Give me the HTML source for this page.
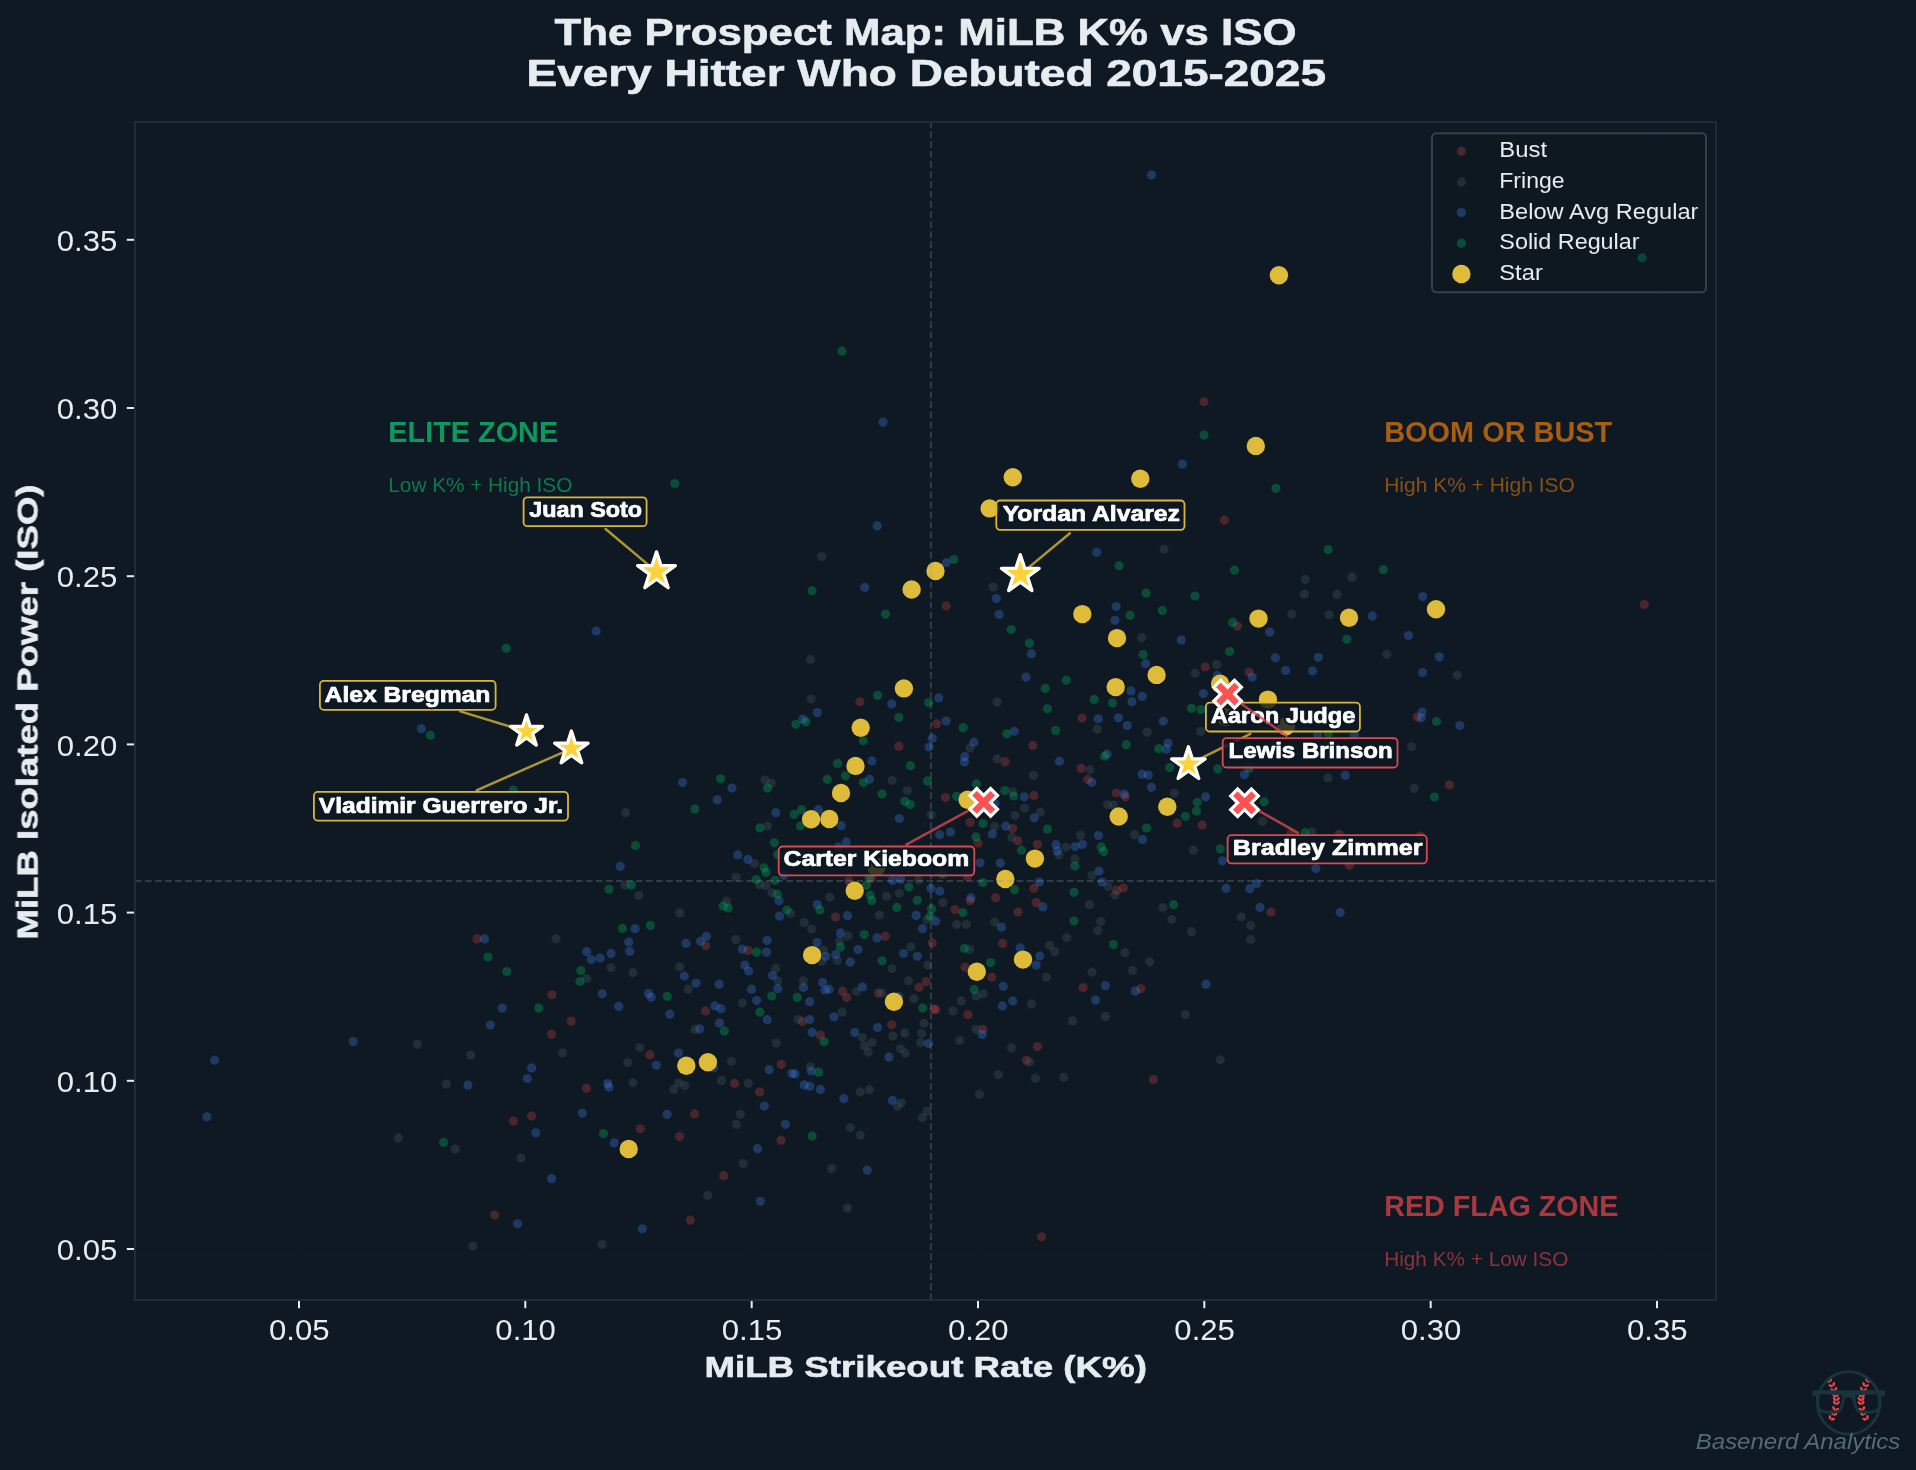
<!DOCTYPE html><html><head><meta charset="utf-8"><title>The Prospect Map</title>
<style>html,body{margin:0;padding:0;background:#0f1923;}body{width:1916px;height:1470px;overflow:hidden;font-family:"Liberation Sans",sans-serif;}svg{display:block;font-family:"Liberation Sans",sans-serif;}text{font-family:"Liberation Sans",sans-serif;}</style>
</head><body>
<svg width="1916" height="1470" viewBox="0 0 1916 1470">
<rect x="0" y="0" width="1916" height="1470" fill="#0f1923"/>
<g opacity="0.999">
<g stroke="#111b26" stroke-width="1.2">
<line x1="299.0" y1="122.0" x2="299.0" y2="1300.0"/>
<line x1="135.0" y1="1249.0" x2="1716.0" y2="1249.0"/>
<line x1="525.3" y1="122.0" x2="525.3" y2="1300.0"/>
<line x1="135.0" y1="1080.8" x2="1716.0" y2="1080.8"/>
<line x1="751.7" y1="122.0" x2="751.7" y2="1300.0"/>
<line x1="135.0" y1="912.6" x2="1716.0" y2="912.6"/>
<line x1="978.0" y1="122.0" x2="978.0" y2="1300.0"/>
<line x1="135.0" y1="744.4" x2="1716.0" y2="744.4"/>
<line x1="1204.3" y1="122.0" x2="1204.3" y2="1300.0"/>
<line x1="135.0" y1="576.2" x2="1716.0" y2="576.2"/>
<line x1="1430.7" y1="122.0" x2="1430.7" y2="1300.0"/>
<line x1="135.0" y1="408.0" x2="1716.0" y2="408.0"/>
<line x1="1657.0" y1="122.0" x2="1657.0" y2="1300.0"/>
<line x1="135.0" y1="239.8" x2="1716.0" y2="239.8"/>
</g>
<g>
<circle cx="1204.0" cy="401.8" r="4.6" fill="rgb(189,65,66)" fill-opacity="0.35"/>
<circle cx="860.0" cy="701.8" r="4.6" fill="rgb(189,65,66)" fill-opacity="0.35"/>
<circle cx="898.9" cy="746.2" r="4.6" fill="rgb(189,65,66)" fill-opacity="0.35"/>
<circle cx="848.8" cy="881.1" r="4.6" fill="rgb(189,65,66)" fill-opacity="0.35"/>
<circle cx="871.4" cy="878.6" r="4.6" fill="rgb(189,65,66)" fill-opacity="0.35"/>
<circle cx="835.5" cy="917.0" r="4.6" fill="rgb(189,65,66)" fill-opacity="0.35"/>
<circle cx="885.1" cy="936.3" r="4.6" fill="rgb(189,65,66)" fill-opacity="0.35"/>
<circle cx="705.7" cy="945.8" r="4.6" fill="rgb(189,65,66)" fill-opacity="0.35"/>
<circle cx="748.1" cy="950.4" r="4.6" fill="rgb(189,65,66)" fill-opacity="0.35"/>
<circle cx="932.3" cy="942.9" r="4.6" fill="rgb(189,65,66)" fill-opacity="0.35"/>
<circle cx="926.0" cy="981.7" r="4.6" fill="rgb(189,65,66)" fill-opacity="0.35"/>
<circle cx="919.0" cy="987.3" r="4.6" fill="rgb(189,65,66)" fill-opacity="0.35"/>
<circle cx="842.6" cy="991.2" r="4.6" fill="rgb(189,65,66)" fill-opacity="0.35"/>
<circle cx="846.6" cy="997.5" r="4.6" fill="rgb(189,65,66)" fill-opacity="0.35"/>
<circle cx="878.4" cy="993.0" r="4.6" fill="rgb(189,65,66)" fill-opacity="0.35"/>
<circle cx="705.5" cy="1010.9" r="4.6" fill="rgb(189,65,66)" fill-opacity="0.35"/>
<circle cx="802.4" cy="1021.4" r="4.6" fill="rgb(189,65,66)" fill-opacity="0.35"/>
<circle cx="891.7" cy="1024.8" r="4.6" fill="rgb(189,65,66)" fill-opacity="0.35"/>
<circle cx="820.4" cy="1035.1" r="4.6" fill="rgb(189,65,66)" fill-opacity="0.35"/>
<circle cx="649.9" cy="1054.7" r="4.6" fill="rgb(189,65,66)" fill-opacity="0.35"/>
<circle cx="781.2" cy="1064.3" r="4.6" fill="rgb(189,65,66)" fill-opacity="0.35"/>
<circle cx="734.6" cy="1083.4" r="4.6" fill="rgb(189,65,66)" fill-opacity="0.35"/>
<circle cx="759.6" cy="1092.1" r="4.6" fill="rgb(189,65,66)" fill-opacity="0.35"/>
<circle cx="694.5" cy="1113.9" r="4.6" fill="rgb(189,65,66)" fill-opacity="0.35"/>
<circle cx="640.2" cy="1128.8" r="4.6" fill="rgb(189,65,66)" fill-opacity="0.35"/>
<circle cx="679.6" cy="1136.5" r="4.6" fill="rgb(189,65,66)" fill-opacity="0.35"/>
<circle cx="781.0" cy="1140.3" r="4.6" fill="rgb(189,65,66)" fill-opacity="0.35"/>
<circle cx="723.6" cy="1175.7" r="4.6" fill="rgb(189,65,66)" fill-opacity="0.35"/>
<circle cx="690.3" cy="1220.2" r="4.6" fill="rgb(189,65,66)" fill-opacity="0.35"/>
<circle cx="934.0" cy="1009.2" r="4.6" fill="rgb(189,65,66)" fill-opacity="0.35"/>
<circle cx="1224.3" cy="520.2" r="4.6" fill="rgb(189,65,66)" fill-opacity="0.35"/>
<circle cx="946.2" cy="605.9" r="4.6" fill="rgb(189,65,66)" fill-opacity="0.35"/>
<circle cx="1237.3" cy="626.1" r="4.6" fill="rgb(189,65,66)" fill-opacity="0.35"/>
<circle cx="1205.1" cy="667.0" r="4.6" fill="rgb(189,65,66)" fill-opacity="0.35"/>
<circle cx="1249.0" cy="672.0" r="4.6" fill="rgb(189,65,66)" fill-opacity="0.35"/>
<circle cx="1082.0" cy="718.0" r="4.6" fill="rgb(189,65,66)" fill-opacity="0.35"/>
<circle cx="936.7" cy="723.8" r="4.6" fill="rgb(189,65,66)" fill-opacity="0.35"/>
<circle cx="1033.0" cy="745.4" r="4.6" fill="rgb(189,65,66)" fill-opacity="0.35"/>
<circle cx="1005.1" cy="761.7" r="4.6" fill="rgb(189,65,66)" fill-opacity="0.35"/>
<circle cx="1081.1" cy="768.4" r="4.6" fill="rgb(189,65,66)" fill-opacity="0.35"/>
<circle cx="1087.8" cy="779.3" r="4.6" fill="rgb(189,65,66)" fill-opacity="0.35"/>
<circle cx="1116.2" cy="793.0" r="4.6" fill="rgb(189,65,66)" fill-opacity="0.35"/>
<circle cx="1125.4" cy="796.8" r="4.6" fill="rgb(189,65,66)" fill-opacity="0.35"/>
<circle cx="945.5" cy="797.6" r="4.6" fill="rgb(189,65,66)" fill-opacity="0.35"/>
<circle cx="1033.9" cy="795.6" r="4.6" fill="rgb(189,65,66)" fill-opacity="0.35"/>
<circle cx="970.1" cy="822.3" r="4.6" fill="rgb(189,65,66)" fill-opacity="0.35"/>
<circle cx="1177.2" cy="823.2" r="4.6" fill="rgb(189,65,66)" fill-opacity="0.35"/>
<circle cx="1202.2" cy="825.2" r="4.6" fill="rgb(189,65,66)" fill-opacity="0.35"/>
<circle cx="1012.7" cy="828.5" r="4.6" fill="rgb(189,65,66)" fill-opacity="0.35"/>
<circle cx="1017.7" cy="840.7" r="4.6" fill="rgb(189,65,66)" fill-opacity="0.35"/>
<circle cx="978.1" cy="843.2" r="4.6" fill="rgb(189,65,66)" fill-opacity="0.35"/>
<circle cx="1037.4" cy="844.4" r="4.6" fill="rgb(189,65,66)" fill-opacity="0.35"/>
<circle cx="1034.0" cy="888.3" r="4.6" fill="rgb(189,65,66)" fill-opacity="0.35"/>
<circle cx="1116.7" cy="890.3" r="4.6" fill="rgb(189,65,66)" fill-opacity="0.35"/>
<circle cx="1123.4" cy="888.0" r="4.6" fill="rgb(189,65,66)" fill-opacity="0.35"/>
<circle cx="995.6" cy="897.8" r="4.6" fill="rgb(189,65,66)" fill-opacity="0.35"/>
<circle cx="970.1" cy="900.7" r="4.6" fill="rgb(189,65,66)" fill-opacity="0.35"/>
<circle cx="1036.2" cy="902.5" r="4.6" fill="rgb(189,65,66)" fill-opacity="0.35"/>
<circle cx="955.0" cy="909.5" r="4.6" fill="rgb(189,65,66)" fill-opacity="0.35"/>
<circle cx="1018.2" cy="912.0" r="4.6" fill="rgb(189,65,66)" fill-opacity="0.35"/>
<circle cx="1002.6" cy="943.4" r="4.6" fill="rgb(189,65,66)" fill-opacity="0.35"/>
<circle cx="965.1" cy="967.2" r="4.6" fill="rgb(189,65,66)" fill-opacity="0.35"/>
<circle cx="991.8" cy="977.2" r="4.6" fill="rgb(189,65,66)" fill-opacity="0.35"/>
<circle cx="967.6" cy="876.6" r="4.6" fill="rgb(189,65,66)" fill-opacity="0.35"/>
<circle cx="1083.1" cy="987.5" r="4.6" fill="rgb(189,65,66)" fill-opacity="0.35"/>
<circle cx="1140.8" cy="988.7" r="4.6" fill="rgb(189,65,66)" fill-opacity="0.35"/>
<circle cx="935.8" cy="1009.7" r="4.6" fill="rgb(189,65,66)" fill-opacity="0.35"/>
<circle cx="967.9" cy="1014.7" r="4.6" fill="rgb(189,65,66)" fill-opacity="0.35"/>
<circle cx="982.9" cy="1029.3" r="4.6" fill="rgb(189,65,66)" fill-opacity="0.35"/>
<circle cx="1037.4" cy="1046.5" r="4.6" fill="rgb(189,65,66)" fill-opacity="0.35"/>
<circle cx="1026.4" cy="1060.3" r="4.6" fill="rgb(189,65,66)" fill-opacity="0.35"/>
<circle cx="1153.5" cy="1079.4" r="4.6" fill="rgb(189,65,66)" fill-opacity="0.35"/>
<circle cx="1417.3" cy="717.1" r="4.6" fill="rgb(189,65,66)" fill-opacity="0.35"/>
<circle cx="1449.4" cy="784.9" r="4.6" fill="rgb(189,65,66)" fill-opacity="0.35"/>
<circle cx="1290.9" cy="833.5" r="4.6" fill="rgb(189,65,66)" fill-opacity="0.35"/>
<circle cx="1339.0" cy="834.4" r="4.6" fill="rgb(189,65,66)" fill-opacity="0.35"/>
<circle cx="1420.3" cy="836.0" r="4.6" fill="rgb(189,65,66)" fill-opacity="0.35"/>
<circle cx="1349.4" cy="865.3" r="4.6" fill="rgb(189,65,66)" fill-opacity="0.35"/>
<circle cx="1270.9" cy="912.0" r="4.6" fill="rgb(189,65,66)" fill-opacity="0.35"/>
<circle cx="477.0" cy="938.9" r="4.6" fill="rgb(189,65,66)" fill-opacity="0.35"/>
<circle cx="551.9" cy="994.8" r="4.6" fill="rgb(189,65,66)" fill-opacity="0.35"/>
<circle cx="571.2" cy="1021.1" r="4.6" fill="rgb(189,65,66)" fill-opacity="0.35"/>
<circle cx="551.6" cy="1034.4" r="4.6" fill="rgb(189,65,66)" fill-opacity="0.35"/>
<circle cx="586.4" cy="1088.2" r="4.6" fill="rgb(189,65,66)" fill-opacity="0.35"/>
<circle cx="531.6" cy="1116.0" r="4.6" fill="rgb(189,65,66)" fill-opacity="0.35"/>
<circle cx="513.3" cy="1121.0" r="4.6" fill="rgb(189,65,66)" fill-opacity="0.35"/>
<circle cx="494.7" cy="1215.0" r="4.6" fill="rgb(189,65,66)" fill-opacity="0.35"/>
<circle cx="1644.3" cy="604.4" r="4.6" fill="rgb(189,65,66)" fill-opacity="0.35"/>
<circle cx="1041.6" cy="1236.8" r="4.6" fill="rgb(189,65,66)" fill-opacity="0.35"/>
<circle cx="821.6" cy="556.6" r="4.6" fill="rgb(66,88,98)" fill-opacity="0.35"/>
<circle cx="810.7" cy="659.4" r="4.6" fill="rgb(66,88,98)" fill-opacity="0.35"/>
<circle cx="811.2" cy="699.1" r="4.6" fill="rgb(66,88,98)" fill-opacity="0.35"/>
<circle cx="765.0" cy="780.1" r="4.6" fill="rgb(66,88,98)" fill-opacity="0.35"/>
<circle cx="771.2" cy="783.1" r="4.6" fill="rgb(66,88,98)" fill-opacity="0.35"/>
<circle cx="892.2" cy="780.4" r="4.6" fill="rgb(66,88,98)" fill-opacity="0.35"/>
<circle cx="907.3" cy="790.6" r="4.6" fill="rgb(66,88,98)" fill-opacity="0.35"/>
<circle cx="625.5" cy="812.7" r="4.6" fill="rgb(66,88,98)" fill-opacity="0.35"/>
<circle cx="767.5" cy="826.0" r="4.6" fill="rgb(66,88,98)" fill-opacity="0.35"/>
<circle cx="931.2" cy="814.7" r="4.6" fill="rgb(66,88,98)" fill-opacity="0.35"/>
<circle cx="754.5" cy="863.6" r="4.6" fill="rgb(66,88,98)" fill-opacity="0.35"/>
<circle cx="736.1" cy="877.3" r="4.6" fill="rgb(66,88,98)" fill-opacity="0.35"/>
<circle cx="625.0" cy="885.3" r="4.6" fill="rgb(66,88,98)" fill-opacity="0.35"/>
<circle cx="759.5" cy="884.8" r="4.6" fill="rgb(66,88,98)" fill-opacity="0.35"/>
<circle cx="765.8" cy="885.8" r="4.6" fill="rgb(66,88,98)" fill-opacity="0.35"/>
<circle cx="918.6" cy="880.0" r="4.6" fill="rgb(66,88,98)" fill-opacity="0.35"/>
<circle cx="638.7" cy="895.3" r="4.6" fill="rgb(66,88,98)" fill-opacity="0.35"/>
<circle cx="772.0" cy="892.8" r="4.6" fill="rgb(66,88,98)" fill-opacity="0.35"/>
<circle cx="829.8" cy="897.3" r="4.6" fill="rgb(66,88,98)" fill-opacity="0.35"/>
<circle cx="886.6" cy="896.2" r="4.6" fill="rgb(66,88,98)" fill-opacity="0.35"/>
<circle cx="899.4" cy="893.3" r="4.6" fill="rgb(66,88,98)" fill-opacity="0.35"/>
<circle cx="726.6" cy="901.2" r="4.6" fill="rgb(66,88,98)" fill-opacity="0.35"/>
<circle cx="679.8" cy="912.9" r="4.6" fill="rgb(66,88,98)" fill-opacity="0.35"/>
<circle cx="790.4" cy="913.4" r="4.6" fill="rgb(66,88,98)" fill-opacity="0.35"/>
<circle cx="879.4" cy="915.0" r="4.6" fill="rgb(66,88,98)" fill-opacity="0.35"/>
<circle cx="804.1" cy="922.4" r="4.6" fill="rgb(66,88,98)" fill-opacity="0.35"/>
<circle cx="811.6" cy="929.1" r="4.6" fill="rgb(66,88,98)" fill-opacity="0.35"/>
<circle cx="848.0" cy="935.9" r="4.6" fill="rgb(66,88,98)" fill-opacity="0.35"/>
<circle cx="735.8" cy="939.6" r="4.6" fill="rgb(66,88,98)" fill-opacity="0.35"/>
<circle cx="839.6" cy="941.3" r="4.6" fill="rgb(66,88,98)" fill-opacity="0.35"/>
<circle cx="823.4" cy="950.1" r="4.6" fill="rgb(66,88,98)" fill-opacity="0.35"/>
<circle cx="910.9" cy="946.8" r="4.6" fill="rgb(66,88,98)" fill-opacity="0.35"/>
<circle cx="821.6" cy="961.3" r="4.6" fill="rgb(66,88,98)" fill-opacity="0.35"/>
<circle cx="837.1" cy="960.5" r="4.6" fill="rgb(66,88,98)" fill-opacity="0.35"/>
<circle cx="679.8" cy="966.8" r="4.6" fill="rgb(66,88,98)" fill-opacity="0.35"/>
<circle cx="775.8" cy="968.3" r="4.6" fill="rgb(66,88,98)" fill-opacity="0.35"/>
<circle cx="633.0" cy="972.7" r="4.6" fill="rgb(66,88,98)" fill-opacity="0.35"/>
<circle cx="891.9" cy="968.5" r="4.6" fill="rgb(66,88,98)" fill-opacity="0.35"/>
<circle cx="927.8" cy="965.1" r="4.6" fill="rgb(66,88,98)" fill-opacity="0.35"/>
<circle cx="927.0" cy="919.6" r="4.6" fill="rgb(66,88,98)" fill-opacity="0.35"/>
<circle cx="688.2" cy="989.2" r="4.6" fill="rgb(66,88,98)" fill-opacity="0.35"/>
<circle cx="777.8" cy="980.8" r="4.6" fill="rgb(66,88,98)" fill-opacity="0.35"/>
<circle cx="803.4" cy="980.8" r="4.6" fill="rgb(66,88,98)" fill-opacity="0.35"/>
<circle cx="908.6" cy="980.8" r="4.6" fill="rgb(66,88,98)" fill-opacity="0.35"/>
<circle cx="856.3" cy="991.4" r="4.6" fill="rgb(66,88,98)" fill-opacity="0.35"/>
<circle cx="881.9" cy="993.0" r="4.6" fill="rgb(66,88,98)" fill-opacity="0.35"/>
<circle cx="742.4" cy="1003.0" r="4.6" fill="rgb(66,88,98)" fill-opacity="0.35"/>
<circle cx="914.0" cy="998.7" r="4.6" fill="rgb(66,88,98)" fill-opacity="0.35"/>
<circle cx="842.1" cy="1012.2" r="4.6" fill="rgb(66,88,98)" fill-opacity="0.35"/>
<circle cx="798.2" cy="1019.6" r="4.6" fill="rgb(66,88,98)" fill-opacity="0.35"/>
<circle cx="694.8" cy="1029.4" r="4.6" fill="rgb(66,88,98)" fill-opacity="0.35"/>
<circle cx="924.0" cy="1023.4" r="4.6" fill="rgb(66,88,98)" fill-opacity="0.35"/>
<circle cx="904.8" cy="1032.9" r="4.6" fill="rgb(66,88,98)" fill-opacity="0.35"/>
<circle cx="921.5" cy="1033.4" r="4.6" fill="rgb(66,88,98)" fill-opacity="0.35"/>
<circle cx="892.9" cy="1036.1" r="4.6" fill="rgb(66,88,98)" fill-opacity="0.35"/>
<circle cx="862.3" cy="1037.6" r="4.6" fill="rgb(66,88,98)" fill-opacity="0.35"/>
<circle cx="872.0" cy="1042.6" r="4.6" fill="rgb(66,88,98)" fill-opacity="0.35"/>
<circle cx="864.5" cy="1046.0" r="4.6" fill="rgb(66,88,98)" fill-opacity="0.35"/>
<circle cx="920.6" cy="1042.6" r="4.6" fill="rgb(66,88,98)" fill-opacity="0.35"/>
<circle cx="776.3" cy="1043.1" r="4.6" fill="rgb(66,88,98)" fill-opacity="0.35"/>
<circle cx="868.4" cy="1052.2" r="4.6" fill="rgb(66,88,98)" fill-opacity="0.35"/>
<circle cx="900.4" cy="1048.8" r="4.6" fill="rgb(66,88,98)" fill-opacity="0.35"/>
<circle cx="905.4" cy="1053.2" r="4.6" fill="rgb(66,88,98)" fill-opacity="0.35"/>
<circle cx="639.9" cy="1047.5" r="4.6" fill="rgb(66,88,98)" fill-opacity="0.35"/>
<circle cx="627.7" cy="1062.5" r="4.6" fill="rgb(66,88,98)" fill-opacity="0.35"/>
<circle cx="731.4" cy="1061.3" r="4.6" fill="rgb(66,88,98)" fill-opacity="0.35"/>
<circle cx="810.4" cy="1066.8" r="4.6" fill="rgb(66,88,98)" fill-opacity="0.35"/>
<circle cx="633.0" cy="1082.7" r="4.6" fill="rgb(66,88,98)" fill-opacity="0.35"/>
<circle cx="678.6" cy="1083.0" r="4.6" fill="rgb(66,88,98)" fill-opacity="0.35"/>
<circle cx="684.8" cy="1085.4" r="4.6" fill="rgb(66,88,98)" fill-opacity="0.35"/>
<circle cx="673.8" cy="1089.4" r="4.6" fill="rgb(66,88,98)" fill-opacity="0.35"/>
<circle cx="721.6" cy="1080.4" r="4.6" fill="rgb(66,88,98)" fill-opacity="0.35"/>
<circle cx="748.3" cy="1083.4" r="4.6" fill="rgb(66,88,98)" fill-opacity="0.35"/>
<circle cx="860.2" cy="1091.9" r="4.6" fill="rgb(66,88,98)" fill-opacity="0.35"/>
<circle cx="869.4" cy="1089.7" r="4.6" fill="rgb(66,88,98)" fill-opacity="0.35"/>
<circle cx="901.3" cy="1102.8" r="4.6" fill="rgb(66,88,98)" fill-opacity="0.35"/>
<circle cx="897.6" cy="1106.4" r="4.6" fill="rgb(66,88,98)" fill-opacity="0.35"/>
<circle cx="740.4" cy="1114.3" r="4.6" fill="rgb(66,88,98)" fill-opacity="0.35"/>
<circle cx="927.0" cy="1111.3" r="4.6" fill="rgb(66,88,98)" fill-opacity="0.35"/>
<circle cx="922.3" cy="1117.6" r="4.6" fill="rgb(66,88,98)" fill-opacity="0.35"/>
<circle cx="736.4" cy="1124.6" r="4.6" fill="rgb(66,88,98)" fill-opacity="0.35"/>
<circle cx="850.5" cy="1127.6" r="4.6" fill="rgb(66,88,98)" fill-opacity="0.35"/>
<circle cx="860.2" cy="1135.2" r="4.6" fill="rgb(66,88,98)" fill-opacity="0.35"/>
<circle cx="743.3" cy="1163.4" r="4.6" fill="rgb(66,88,98)" fill-opacity="0.35"/>
<circle cx="831.6" cy="1168.7" r="4.6" fill="rgb(66,88,98)" fill-opacity="0.35"/>
<circle cx="707.7" cy="1195.4" r="4.6" fill="rgb(66,88,98)" fill-opacity="0.35"/>
<circle cx="847.3" cy="1208.0" r="4.6" fill="rgb(66,88,98)" fill-opacity="0.35"/>
<circle cx="1164.1" cy="549.0" r="4.6" fill="rgb(66,88,98)" fill-opacity="0.35"/>
<circle cx="993.0" cy="587.0" r="4.6" fill="rgb(66,88,98)" fill-opacity="0.35"/>
<circle cx="1141.6" cy="637.8" r="4.6" fill="rgb(66,88,98)" fill-opacity="0.35"/>
<circle cx="1216.9" cy="664.5" r="4.6" fill="rgb(66,88,98)" fill-opacity="0.35"/>
<circle cx="1195.2" cy="673.2" r="4.6" fill="rgb(66,88,98)" fill-opacity="0.35"/>
<circle cx="997.1" cy="702.1" r="4.6" fill="rgb(66,88,98)" fill-opacity="0.35"/>
<circle cx="1097.3" cy="729.2" r="4.6" fill="rgb(66,88,98)" fill-opacity="0.35"/>
<circle cx="1147.1" cy="732.2" r="4.6" fill="rgb(66,88,98)" fill-opacity="0.35"/>
<circle cx="1200.6" cy="731.3" r="4.6" fill="rgb(66,88,98)" fill-opacity="0.35"/>
<circle cx="970.1" cy="748.0" r="4.6" fill="rgb(66,88,98)" fill-opacity="0.35"/>
<circle cx="997.1" cy="758.9" r="4.6" fill="rgb(66,88,98)" fill-opacity="0.35"/>
<circle cx="1090.0" cy="769.7" r="4.6" fill="rgb(66,88,98)" fill-opacity="0.35"/>
<circle cx="1033.5" cy="775.6" r="4.6" fill="rgb(66,88,98)" fill-opacity="0.35"/>
<circle cx="1012.8" cy="791.8" r="4.6" fill="rgb(66,88,98)" fill-opacity="0.35"/>
<circle cx="1174.3" cy="793.1" r="4.6" fill="rgb(66,88,98)" fill-opacity="0.35"/>
<circle cx="1107.5" cy="804.8" r="4.6" fill="rgb(66,88,98)" fill-opacity="0.35"/>
<circle cx="1113.4" cy="805.1" r="4.6" fill="rgb(66,88,98)" fill-opacity="0.35"/>
<circle cx="1024.4" cy="808.0" r="4.6" fill="rgb(66,88,98)" fill-opacity="0.35"/>
<circle cx="1040.4" cy="812.2" r="4.6" fill="rgb(66,88,98)" fill-opacity="0.35"/>
<circle cx="1015.0" cy="815.5" r="4.6" fill="rgb(66,88,98)" fill-opacity="0.35"/>
<circle cx="994.6" cy="826.4" r="4.6" fill="rgb(66,88,98)" fill-opacity="0.35"/>
<circle cx="1080.5" cy="835.2" r="4.6" fill="rgb(66,88,98)" fill-opacity="0.35"/>
<circle cx="1011.7" cy="837.4" r="4.6" fill="rgb(66,88,98)" fill-opacity="0.35"/>
<circle cx="1134.6" cy="834.7" r="4.6" fill="rgb(66,88,98)" fill-opacity="0.35"/>
<circle cx="1065.8" cy="847.2" r="4.6" fill="rgb(66,88,98)" fill-opacity="0.35"/>
<circle cx="1193.2" cy="850.2" r="4.6" fill="rgb(66,88,98)" fill-opacity="0.35"/>
<circle cx="1058.9" cy="854.9" r="4.6" fill="rgb(66,88,98)" fill-opacity="0.35"/>
<circle cx="1075.0" cy="858.9" r="4.6" fill="rgb(66,88,98)" fill-opacity="0.35"/>
<circle cx="1092.0" cy="875.6" r="4.6" fill="rgb(66,88,98)" fill-opacity="0.35"/>
<circle cx="1108.2" cy="886.6" r="4.6" fill="rgb(66,88,98)" fill-opacity="0.35"/>
<circle cx="1115.0" cy="895.0" r="4.6" fill="rgb(66,88,98)" fill-opacity="0.35"/>
<circle cx="943.0" cy="902.5" r="4.6" fill="rgb(66,88,98)" fill-opacity="0.35"/>
<circle cx="1089.5" cy="904.4" r="4.6" fill="rgb(66,88,98)" fill-opacity="0.35"/>
<circle cx="1163.0" cy="907.5" r="4.6" fill="rgb(66,88,98)" fill-opacity="0.35"/>
<circle cx="1241.1" cy="917.0" r="4.6" fill="rgb(66,88,98)" fill-opacity="0.35"/>
<circle cx="1171.8" cy="919.6" r="4.6" fill="rgb(66,88,98)" fill-opacity="0.35"/>
<circle cx="1100.7" cy="921.6" r="4.6" fill="rgb(66,88,98)" fill-opacity="0.35"/>
<circle cx="994.8" cy="922.1" r="4.6" fill="rgb(66,88,98)" fill-opacity="0.35"/>
<circle cx="956.7" cy="924.6" r="4.6" fill="rgb(66,88,98)" fill-opacity="0.35"/>
<circle cx="966.4" cy="924.6" r="4.6" fill="rgb(66,88,98)" fill-opacity="0.35"/>
<circle cx="1097.8" cy="930.4" r="4.6" fill="rgb(66,88,98)" fill-opacity="0.35"/>
<circle cx="1191.5" cy="931.7" r="4.6" fill="rgb(66,88,98)" fill-opacity="0.35"/>
<circle cx="1066.9" cy="937.6" r="4.6" fill="rgb(66,88,98)" fill-opacity="0.35"/>
<circle cx="1049.7" cy="945.4" r="4.6" fill="rgb(66,88,98)" fill-opacity="0.35"/>
<circle cx="1054.7" cy="951.8" r="4.6" fill="rgb(66,88,98)" fill-opacity="0.35"/>
<circle cx="1124.9" cy="952.6" r="4.6" fill="rgb(66,88,98)" fill-opacity="0.35"/>
<circle cx="969.6" cy="949.6" r="4.6" fill="rgb(66,88,98)" fill-opacity="0.35"/>
<circle cx="1149.6" cy="961.8" r="4.6" fill="rgb(66,88,98)" fill-opacity="0.35"/>
<circle cx="1092.0" cy="972.2" r="4.6" fill="rgb(66,88,98)" fill-opacity="0.35"/>
<circle cx="1132.6" cy="970.5" r="4.6" fill="rgb(66,88,98)" fill-opacity="0.35"/>
<circle cx="1046.1" cy="977.2" r="4.6" fill="rgb(66,88,98)" fill-opacity="0.35"/>
<circle cx="1250.7" cy="925.4" r="4.6" fill="rgb(66,88,98)" fill-opacity="0.35"/>
<circle cx="1250.7" cy="939.6" r="4.6" fill="rgb(66,88,98)" fill-opacity="0.35"/>
<circle cx="983.4" cy="993.7" r="4.6" fill="rgb(66,88,98)" fill-opacity="0.35"/>
<circle cx="976.4" cy="995.9" r="4.6" fill="rgb(66,88,98)" fill-opacity="0.35"/>
<circle cx="961.2" cy="1000.9" r="4.6" fill="rgb(66,88,98)" fill-opacity="0.35"/>
<circle cx="952.9" cy="1010.9" r="4.6" fill="rgb(66,88,98)" fill-opacity="0.35"/>
<circle cx="1031.5" cy="1003.9" r="4.6" fill="rgb(66,88,98)" fill-opacity="0.35"/>
<circle cx="1105.4" cy="1016.4" r="4.6" fill="rgb(66,88,98)" fill-opacity="0.35"/>
<circle cx="1072.5" cy="1020.9" r="4.6" fill="rgb(66,88,98)" fill-opacity="0.35"/>
<circle cx="1185.5" cy="1014.6" r="4.6" fill="rgb(66,88,98)" fill-opacity="0.35"/>
<circle cx="976.1" cy="1029.3" r="4.6" fill="rgb(66,88,98)" fill-opacity="0.35"/>
<circle cx="959.7" cy="1040.5" r="4.6" fill="rgb(66,88,98)" fill-opacity="0.35"/>
<circle cx="1011.3" cy="1047.8" r="4.6" fill="rgb(66,88,98)" fill-opacity="0.35"/>
<circle cx="1029.7" cy="1062.2" r="4.6" fill="rgb(66,88,98)" fill-opacity="0.35"/>
<circle cx="998.3" cy="1074.5" r="4.6" fill="rgb(66,88,98)" fill-opacity="0.35"/>
<circle cx="1035.4" cy="1078.4" r="4.6" fill="rgb(66,88,98)" fill-opacity="0.35"/>
<circle cx="1063.8" cy="1077.2" r="4.6" fill="rgb(66,88,98)" fill-opacity="0.35"/>
<circle cx="1220.3" cy="1059.8" r="4.6" fill="rgb(66,88,98)" fill-opacity="0.35"/>
<circle cx="979.4" cy="1094.4" r="4.6" fill="rgb(66,88,98)" fill-opacity="0.35"/>
<circle cx="1305.3" cy="579.4" r="4.6" fill="rgb(66,88,98)" fill-opacity="0.35"/>
<circle cx="1352.0" cy="577.2" r="4.6" fill="rgb(66,88,98)" fill-opacity="0.35"/>
<circle cx="1304.3" cy="594.2" r="4.6" fill="rgb(66,88,98)" fill-opacity="0.35"/>
<circle cx="1337.0" cy="594.4" r="4.6" fill="rgb(66,88,98)" fill-opacity="0.35"/>
<circle cx="1291.7" cy="614.1" r="4.6" fill="rgb(66,88,98)" fill-opacity="0.35"/>
<circle cx="1329.2" cy="614.8" r="4.6" fill="rgb(66,88,98)" fill-opacity="0.35"/>
<circle cx="1386.9" cy="654.3" r="4.6" fill="rgb(66,88,98)" fill-opacity="0.35"/>
<circle cx="1457.3" cy="675.1" r="4.6" fill="rgb(66,88,98)" fill-opacity="0.35"/>
<circle cx="1411.5" cy="746.7" r="4.6" fill="rgb(66,88,98)" fill-opacity="0.35"/>
<circle cx="1328.0" cy="777.9" r="4.6" fill="rgb(66,88,98)" fill-opacity="0.35"/>
<circle cx="1414.2" cy="788.4" r="4.6" fill="rgb(66,88,98)" fill-opacity="0.35"/>
<circle cx="1262.5" cy="821.3" r="4.6" fill="rgb(66,88,98)" fill-opacity="0.35"/>
<circle cx="1311.8" cy="831.9" r="4.6" fill="rgb(66,88,98)" fill-opacity="0.35"/>
<circle cx="555.9" cy="938.9" r="4.6" fill="rgb(66,88,98)" fill-opacity="0.35"/>
<circle cx="611.0" cy="967.5" r="4.6" fill="rgb(66,88,98)" fill-opacity="0.35"/>
<circle cx="586.7" cy="978.5" r="4.6" fill="rgb(66,88,98)" fill-opacity="0.35"/>
<circle cx="417.3" cy="1044.4" r="4.6" fill="rgb(66,88,98)" fill-opacity="0.35"/>
<circle cx="470.7" cy="1055.2" r="4.6" fill="rgb(66,88,98)" fill-opacity="0.35"/>
<circle cx="562.6" cy="1052.9" r="4.6" fill="rgb(66,88,98)" fill-opacity="0.35"/>
<circle cx="446.4" cy="1084.2" r="4.6" fill="rgb(66,88,98)" fill-opacity="0.35"/>
<circle cx="398.3" cy="1138.1" r="4.6" fill="rgb(66,88,98)" fill-opacity="0.35"/>
<circle cx="455.2" cy="1149.1" r="4.6" fill="rgb(66,88,98)" fill-opacity="0.35"/>
<circle cx="520.8" cy="1157.9" r="4.6" fill="rgb(66,88,98)" fill-opacity="0.35"/>
<circle cx="472.7" cy="1246.1" r="4.6" fill="rgb(66,88,98)" fill-opacity="0.35"/>
<circle cx="602.0" cy="1244.6" r="4.6" fill="rgb(66,88,98)" fill-opacity="0.35"/>
<circle cx="883.1" cy="422.1" r="4.6" fill="rgb(64,122,226)" fill-opacity="0.35"/>
<circle cx="1151.6" cy="175.1" r="4.6" fill="rgb(64,122,226)" fill-opacity="0.35"/>
<circle cx="1182.4" cy="464.2" r="4.6" fill="rgb(64,122,226)" fill-opacity="0.35"/>
<circle cx="596.2" cy="631.0" r="4.6" fill="rgb(64,122,226)" fill-opacity="0.35"/>
<circle cx="421.3" cy="728.7" r="4.6" fill="rgb(64,122,226)" fill-opacity="0.35"/>
<circle cx="877.2" cy="525.9" r="4.6" fill="rgb(64,122,226)" fill-opacity="0.35"/>
<circle cx="864.7" cy="587.4" r="4.6" fill="rgb(64,122,226)" fill-opacity="0.35"/>
<circle cx="891.7" cy="703.9" r="4.6" fill="rgb(64,122,226)" fill-opacity="0.35"/>
<circle cx="817.4" cy="712.6" r="4.6" fill="rgb(64,122,226)" fill-opacity="0.35"/>
<circle cx="802.9" cy="719.1" r="4.6" fill="rgb(64,122,226)" fill-opacity="0.35"/>
<circle cx="932.3" cy="738.3" r="4.6" fill="rgb(64,122,226)" fill-opacity="0.35"/>
<circle cx="929.0" cy="747.0" r="4.6" fill="rgb(64,122,226)" fill-opacity="0.35"/>
<circle cx="871.9" cy="760.9" r="4.6" fill="rgb(64,122,226)" fill-opacity="0.35"/>
<circle cx="869.5" cy="779.3" r="4.6" fill="rgb(64,122,226)" fill-opacity="0.35"/>
<circle cx="682.6" cy="782.6" r="4.6" fill="rgb(64,122,226)" fill-opacity="0.35"/>
<circle cx="731.9" cy="788.1" r="4.6" fill="rgb(64,122,226)" fill-opacity="0.35"/>
<circle cx="717.2" cy="799.8" r="4.6" fill="rgb(64,122,226)" fill-opacity="0.35"/>
<circle cx="818.4" cy="809.7" r="4.6" fill="rgb(64,122,226)" fill-opacity="0.35"/>
<circle cx="775.8" cy="812.7" r="4.6" fill="rgb(64,122,226)" fill-opacity="0.35"/>
<circle cx="899.3" cy="818.5" r="4.6" fill="rgb(64,122,226)" fill-opacity="0.35"/>
<circle cx="841.3" cy="825.7" r="4.6" fill="rgb(64,122,226)" fill-opacity="0.35"/>
<circle cx="846.3" cy="841.9" r="4.6" fill="rgb(64,122,226)" fill-opacity="0.35"/>
<circle cx="838.5" cy="846.9" r="4.6" fill="rgb(64,122,226)" fill-opacity="0.35"/>
<circle cx="737.9" cy="854.9" r="4.6" fill="rgb(64,122,226)" fill-opacity="0.35"/>
<circle cx="747.9" cy="859.4" r="4.6" fill="rgb(64,122,226)" fill-opacity="0.35"/>
<circle cx="620.3" cy="866.4" r="4.6" fill="rgb(64,122,226)" fill-opacity="0.35"/>
<circle cx="783.7" cy="875.3" r="4.6" fill="rgb(64,122,226)" fill-opacity="0.35"/>
<circle cx="892.6" cy="880.6" r="4.6" fill="rgb(64,122,226)" fill-opacity="0.35"/>
<circle cx="900.6" cy="879.6" r="4.6" fill="rgb(64,122,226)" fill-opacity="0.35"/>
<circle cx="931.0" cy="888.3" r="4.6" fill="rgb(64,122,226)" fill-opacity="0.35"/>
<circle cx="779.0" cy="900.8" r="4.6" fill="rgb(64,122,226)" fill-opacity="0.35"/>
<circle cx="817.1" cy="904.5" r="4.6" fill="rgb(64,122,226)" fill-opacity="0.35"/>
<circle cx="779.5" cy="916.2" r="4.6" fill="rgb(64,122,226)" fill-opacity="0.35"/>
<circle cx="847.5" cy="915.7" r="4.6" fill="rgb(64,122,226)" fill-opacity="0.35"/>
<circle cx="916.1" cy="915.4" r="4.6" fill="rgb(64,122,226)" fill-opacity="0.35"/>
<circle cx="635.0" cy="928.7" r="4.6" fill="rgb(64,122,226)" fill-opacity="0.35"/>
<circle cx="922.6" cy="928.7" r="4.6" fill="rgb(64,122,226)" fill-opacity="0.35"/>
<circle cx="840.5" cy="932.9" r="4.6" fill="rgb(64,122,226)" fill-opacity="0.35"/>
<circle cx="706.5" cy="936.3" r="4.6" fill="rgb(64,122,226)" fill-opacity="0.35"/>
<circle cx="700.5" cy="941.3" r="4.6" fill="rgb(64,122,226)" fill-opacity="0.35"/>
<circle cx="628.7" cy="942.1" r="4.6" fill="rgb(64,122,226)" fill-opacity="0.35"/>
<circle cx="686.0" cy="943.4" r="4.6" fill="rgb(64,122,226)" fill-opacity="0.35"/>
<circle cx="767.0" cy="940.4" r="4.6" fill="rgb(64,122,226)" fill-opacity="0.35"/>
<circle cx="876.9" cy="937.9" r="4.6" fill="rgb(64,122,226)" fill-opacity="0.35"/>
<circle cx="817.1" cy="942.6" r="4.6" fill="rgb(64,122,226)" fill-opacity="0.35"/>
<circle cx="629.7" cy="951.5" r="4.6" fill="rgb(64,122,226)" fill-opacity="0.35"/>
<circle cx="742.3" cy="949.1" r="4.6" fill="rgb(64,122,226)" fill-opacity="0.35"/>
<circle cx="766.5" cy="952.1" r="4.6" fill="rgb(64,122,226)" fill-opacity="0.35"/>
<circle cx="858.0" cy="949.6" r="4.6" fill="rgb(64,122,226)" fill-opacity="0.35"/>
<circle cx="825.9" cy="956.3" r="4.6" fill="rgb(64,122,226)" fill-opacity="0.35"/>
<circle cx="835.8" cy="954.6" r="4.6" fill="rgb(64,122,226)" fill-opacity="0.35"/>
<circle cx="903.6" cy="953.5" r="4.6" fill="rgb(64,122,226)" fill-opacity="0.35"/>
<circle cx="917.3" cy="956.3" r="4.6" fill="rgb(64,122,226)" fill-opacity="0.35"/>
<circle cx="850.2" cy="962.1" r="4.6" fill="rgb(64,122,226)" fill-opacity="0.35"/>
<circle cx="744.8" cy="965.0" r="4.6" fill="rgb(64,122,226)" fill-opacity="0.35"/>
<circle cx="748.6" cy="971.0" r="4.6" fill="rgb(64,122,226)" fill-opacity="0.35"/>
<circle cx="684.3" cy="976.0" r="4.6" fill="rgb(64,122,226)" fill-opacity="0.35"/>
<circle cx="772.5" cy="975.5" r="4.6" fill="rgb(64,122,226)" fill-opacity="0.35"/>
<circle cx="696.0" cy="983.3" r="4.6" fill="rgb(64,122,226)" fill-opacity="0.35"/>
<circle cx="719.2" cy="984.2" r="4.6" fill="rgb(64,122,226)" fill-opacity="0.35"/>
<circle cx="648.4" cy="993.4" r="4.6" fill="rgb(64,122,226)" fill-opacity="0.35"/>
<circle cx="651.2" cy="997.2" r="4.6" fill="rgb(64,122,226)" fill-opacity="0.35"/>
<circle cx="618.7" cy="1006.4" r="4.6" fill="rgb(64,122,226)" fill-opacity="0.35"/>
<circle cx="751.5" cy="989.2" r="4.6" fill="rgb(64,122,226)" fill-opacity="0.35"/>
<circle cx="777.8" cy="988.7" r="4.6" fill="rgb(64,122,226)" fill-opacity="0.35"/>
<circle cx="803.4" cy="987.5" r="4.6" fill="rgb(64,122,226)" fill-opacity="0.35"/>
<circle cx="822.6" cy="982.5" r="4.6" fill="rgb(64,122,226)" fill-opacity="0.35"/>
<circle cx="825.1" cy="990.0" r="4.6" fill="rgb(64,122,226)" fill-opacity="0.35"/>
<circle cx="829.1" cy="989.2" r="4.6" fill="rgb(64,122,226)" fill-opacity="0.35"/>
<circle cx="862.5" cy="987.0" r="4.6" fill="rgb(64,122,226)" fill-opacity="0.35"/>
<circle cx="756.6" cy="1000.5" r="4.6" fill="rgb(64,122,226)" fill-opacity="0.35"/>
<circle cx="809.7" cy="1001.7" r="4.6" fill="rgb(64,122,226)" fill-opacity="0.35"/>
<circle cx="714.9" cy="1005.9" r="4.6" fill="rgb(64,122,226)" fill-opacity="0.35"/>
<circle cx="720.9" cy="1008.7" r="4.6" fill="rgb(64,122,226)" fill-opacity="0.35"/>
<circle cx="669.8" cy="1014.2" r="4.6" fill="rgb(64,122,226)" fill-opacity="0.35"/>
<circle cx="767.2" cy="1019.7" r="4.6" fill="rgb(64,122,226)" fill-opacity="0.35"/>
<circle cx="809.6" cy="1019.6" r="4.6" fill="rgb(64,122,226)" fill-opacity="0.35"/>
<circle cx="834.0" cy="1016.9" r="4.6" fill="rgb(64,122,226)" fill-opacity="0.35"/>
<circle cx="719.6" cy="1023.1" r="4.6" fill="rgb(64,122,226)" fill-opacity="0.35"/>
<circle cx="699.7" cy="1028.8" r="4.6" fill="rgb(64,122,226)" fill-opacity="0.35"/>
<circle cx="812.1" cy="1032.4" r="4.6" fill="rgb(64,122,226)" fill-opacity="0.35"/>
<circle cx="854.8" cy="1032.3" r="4.6" fill="rgb(64,122,226)" fill-opacity="0.35"/>
<circle cx="877.5" cy="1027.6" r="4.6" fill="rgb(64,122,226)" fill-opacity="0.35"/>
<circle cx="928.5" cy="1043.5" r="4.6" fill="rgb(64,122,226)" fill-opacity="0.35"/>
<circle cx="678.5" cy="1053.0" r="4.6" fill="rgb(64,122,226)" fill-opacity="0.35"/>
<circle cx="888.9" cy="1057.2" r="4.6" fill="rgb(64,122,226)" fill-opacity="0.35"/>
<circle cx="656.3" cy="1065.3" r="4.6" fill="rgb(64,122,226)" fill-opacity="0.35"/>
<circle cx="713.5" cy="1067.7" r="4.6" fill="rgb(64,122,226)" fill-opacity="0.35"/>
<circle cx="769.2" cy="1069.7" r="4.6" fill="rgb(64,122,226)" fill-opacity="0.35"/>
<circle cx="792.0" cy="1073.5" r="4.6" fill="rgb(64,122,226)" fill-opacity="0.35"/>
<circle cx="795.0" cy="1073.9" r="4.6" fill="rgb(64,122,226)" fill-opacity="0.35"/>
<circle cx="811.2" cy="1071.0" r="4.6" fill="rgb(64,122,226)" fill-opacity="0.35"/>
<circle cx="804.2" cy="1084.9" r="4.6" fill="rgb(64,122,226)" fill-opacity="0.35"/>
<circle cx="809.9" cy="1086.2" r="4.6" fill="rgb(64,122,226)" fill-opacity="0.35"/>
<circle cx="820.3" cy="1089.4" r="4.6" fill="rgb(64,122,226)" fill-opacity="0.35"/>
<circle cx="843.8" cy="1098.7" r="4.6" fill="rgb(64,122,226)" fill-opacity="0.35"/>
<circle cx="892.4" cy="1100.3" r="4.6" fill="rgb(64,122,226)" fill-opacity="0.35"/>
<circle cx="764.3" cy="1106.1" r="4.6" fill="rgb(64,122,226)" fill-opacity="0.35"/>
<circle cx="667.1" cy="1114.3" r="4.6" fill="rgb(64,122,226)" fill-opacity="0.35"/>
<circle cx="785.4" cy="1124.3" r="4.6" fill="rgb(64,122,226)" fill-opacity="0.35"/>
<circle cx="757.5" cy="1148.7" r="4.6" fill="rgb(64,122,226)" fill-opacity="0.35"/>
<circle cx="867.2" cy="1170.1" r="4.6" fill="rgb(64,122,226)" fill-opacity="0.35"/>
<circle cx="760.3" cy="1201.3" r="4.6" fill="rgb(64,122,226)" fill-opacity="0.35"/>
<circle cx="614.2" cy="1142.8" r="4.6" fill="rgb(64,122,226)" fill-opacity="0.35"/>
<circle cx="898.9" cy="996.7" r="4.6" fill="rgb(64,122,226)" fill-opacity="0.35"/>
<circle cx="946.4" cy="562.7" r="4.6" fill="rgb(64,122,226)" fill-opacity="0.35"/>
<circle cx="1096.7" cy="552.3" r="4.6" fill="rgb(64,122,226)" fill-opacity="0.35"/>
<circle cx="996.3" cy="598.4" r="4.6" fill="rgb(64,122,226)" fill-opacity="0.35"/>
<circle cx="1116.2" cy="606.6" r="4.6" fill="rgb(64,122,226)" fill-opacity="0.35"/>
<circle cx="999.0" cy="614.4" r="4.6" fill="rgb(64,122,226)" fill-opacity="0.35"/>
<circle cx="1114.9" cy="620.3" r="4.6" fill="rgb(64,122,226)" fill-opacity="0.35"/>
<circle cx="1181.2" cy="640.0" r="4.6" fill="rgb(64,122,226)" fill-opacity="0.35"/>
<circle cx="1031.4" cy="653.7" r="4.6" fill="rgb(64,122,226)" fill-opacity="0.35"/>
<circle cx="1145.6" cy="663.7" r="4.6" fill="rgb(64,122,226)" fill-opacity="0.35"/>
<circle cx="1026.0" cy="677.1" r="4.6" fill="rgb(64,122,226)" fill-opacity="0.35"/>
<circle cx="1217.3" cy="675.4" r="4.6" fill="rgb(64,122,226)" fill-opacity="0.35"/>
<circle cx="1130.9" cy="690.9" r="4.6" fill="rgb(64,122,226)" fill-opacity="0.35"/>
<circle cx="1142.1" cy="696.4" r="4.6" fill="rgb(64,122,226)" fill-opacity="0.35"/>
<circle cx="1131.9" cy="701.8" r="4.6" fill="rgb(64,122,226)" fill-opacity="0.35"/>
<circle cx="1203.4" cy="693.6" r="4.6" fill="rgb(64,122,226)" fill-opacity="0.35"/>
<circle cx="938.7" cy="697.9" r="4.6" fill="rgb(64,122,226)" fill-opacity="0.35"/>
<circle cx="1098.2" cy="718.8" r="4.6" fill="rgb(64,122,226)" fill-opacity="0.35"/>
<circle cx="1118.4" cy="717.8" r="4.6" fill="rgb(64,122,226)" fill-opacity="0.35"/>
<circle cx="1127.2" cy="725.5" r="4.6" fill="rgb(64,122,226)" fill-opacity="0.35"/>
<circle cx="1163.3" cy="721.0" r="4.6" fill="rgb(64,122,226)" fill-opacity="0.35"/>
<circle cx="946.2" cy="721.0" r="4.6" fill="rgb(64,122,226)" fill-opacity="0.35"/>
<circle cx="1014.3" cy="731.3" r="4.6" fill="rgb(64,122,226)" fill-opacity="0.35"/>
<circle cx="1252.3" cy="677.1" r="4.6" fill="rgb(64,122,226)" fill-opacity="0.35"/>
<circle cx="973.9" cy="742.2" r="4.6" fill="rgb(64,122,226)" fill-opacity="0.35"/>
<circle cx="1168.0" cy="743.0" r="4.6" fill="rgb(64,122,226)" fill-opacity="0.35"/>
<circle cx="1166.3" cy="749.2" r="4.6" fill="rgb(64,122,226)" fill-opacity="0.35"/>
<circle cx="1107.0" cy="754.2" r="4.6" fill="rgb(64,122,226)" fill-opacity="0.35"/>
<circle cx="964.7" cy="756.7" r="4.6" fill="rgb(64,122,226)" fill-opacity="0.35"/>
<circle cx="964.4" cy="762.1" r="4.6" fill="rgb(64,122,226)" fill-opacity="0.35"/>
<circle cx="1059.4" cy="761.2" r="4.6" fill="rgb(64,122,226)" fill-opacity="0.35"/>
<circle cx="1142.1" cy="774.2" r="4.6" fill="rgb(64,122,226)" fill-opacity="0.35"/>
<circle cx="1148.3" cy="775.1" r="4.6" fill="rgb(64,122,226)" fill-opacity="0.35"/>
<circle cx="1091.7" cy="782.3" r="4.6" fill="rgb(64,122,226)" fill-opacity="0.35"/>
<circle cx="1151.5" cy="787.3" r="4.6" fill="rgb(64,122,226)" fill-opacity="0.35"/>
<circle cx="1124.1" cy="794.0" r="4.6" fill="rgb(64,122,226)" fill-opacity="0.35"/>
<circle cx="1024.2" cy="796.8" r="4.6" fill="rgb(64,122,226)" fill-opacity="0.35"/>
<circle cx="1205.6" cy="796.8" r="4.6" fill="rgb(64,122,226)" fill-opacity="0.35"/>
<circle cx="1244.5" cy="774.7" r="4.6" fill="rgb(64,122,226)" fill-opacity="0.35"/>
<circle cx="1034.2" cy="817.8" r="4.6" fill="rgb(64,122,226)" fill-opacity="0.35"/>
<circle cx="1005.8" cy="826.2" r="4.6" fill="rgb(64,122,226)" fill-opacity="0.35"/>
<circle cx="992.3" cy="834.0" r="4.6" fill="rgb(64,122,226)" fill-opacity="0.35"/>
<circle cx="950.5" cy="832.0" r="4.6" fill="rgb(64,122,226)" fill-opacity="0.35"/>
<circle cx="939.7" cy="834.7" r="4.6" fill="rgb(64,122,226)" fill-opacity="0.35"/>
<circle cx="1098.5" cy="835.5" r="4.6" fill="rgb(64,122,226)" fill-opacity="0.35"/>
<circle cx="1142.6" cy="839.7" r="4.6" fill="rgb(64,122,226)" fill-opacity="0.35"/>
<circle cx="1056.1" cy="844.7" r="4.6" fill="rgb(64,122,226)" fill-opacity="0.35"/>
<circle cx="1082.5" cy="844.4" r="4.6" fill="rgb(64,122,226)" fill-opacity="0.35"/>
<circle cx="1075.0" cy="846.6" r="4.6" fill="rgb(64,122,226)" fill-opacity="0.35"/>
<circle cx="1057.4" cy="851.1" r="4.6" fill="rgb(64,122,226)" fill-opacity="0.35"/>
<circle cx="1222.3" cy="860.8" r="4.6" fill="rgb(64,122,226)" fill-opacity="0.35"/>
<circle cx="1000.3" cy="863.1" r="4.6" fill="rgb(64,122,226)" fill-opacity="0.35"/>
<circle cx="980.1" cy="862.8" r="4.6" fill="rgb(64,122,226)" fill-opacity="0.35"/>
<circle cx="1099.0" cy="871.1" r="4.6" fill="rgb(64,122,226)" fill-opacity="0.35"/>
<circle cx="1039.2" cy="882.0" r="4.6" fill="rgb(64,122,226)" fill-opacity="0.35"/>
<circle cx="1102.0" cy="882.0" r="4.6" fill="rgb(64,122,226)" fill-opacity="0.35"/>
<circle cx="1226.1" cy="888.3" r="4.6" fill="rgb(64,122,226)" fill-opacity="0.35"/>
<circle cx="1249.8" cy="888.7" r="4.6" fill="rgb(64,122,226)" fill-opacity="0.35"/>
<circle cx="939.7" cy="891.2" r="4.6" fill="rgb(64,122,226)" fill-opacity="0.35"/>
<circle cx="970.9" cy="897.8" r="4.6" fill="rgb(64,122,226)" fill-opacity="0.35"/>
<circle cx="1042.9" cy="906.9" r="4.6" fill="rgb(64,122,226)" fill-opacity="0.35"/>
<circle cx="1001.5" cy="927.1" r="4.6" fill="rgb(64,122,226)" fill-opacity="0.35"/>
<circle cx="935.8" cy="921.2" r="4.6" fill="rgb(64,122,226)" fill-opacity="0.35"/>
<circle cx="1020.2" cy="947.9" r="4.6" fill="rgb(64,122,226)" fill-opacity="0.35"/>
<circle cx="1039.7" cy="956.0" r="4.6" fill="rgb(64,122,226)" fill-opacity="0.35"/>
<circle cx="1036.2" cy="965.1" r="4.6" fill="rgb(64,122,226)" fill-opacity="0.35"/>
<circle cx="995.1" cy="803.5" r="4.6" fill="rgb(64,122,226)" fill-opacity="0.35"/>
<circle cx="1003.3" cy="986.3" r="4.6" fill="rgb(64,122,226)" fill-opacity="0.35"/>
<circle cx="1105.4" cy="985.8" r="4.6" fill="rgb(64,122,226)" fill-opacity="0.35"/>
<circle cx="1205.9" cy="984.2" r="4.6" fill="rgb(64,122,226)" fill-opacity="0.35"/>
<circle cx="1135.4" cy="991.0" r="4.6" fill="rgb(64,122,226)" fill-opacity="0.35"/>
<circle cx="1012.7" cy="1000.9" r="4.6" fill="rgb(64,122,226)" fill-opacity="0.35"/>
<circle cx="1002.3" cy="1005.9" r="4.6" fill="rgb(64,122,226)" fill-opacity="0.35"/>
<circle cx="1095.5" cy="1000.0" r="4.6" fill="rgb(64,122,226)" fill-opacity="0.35"/>
<circle cx="982.3" cy="1034.6" r="4.6" fill="rgb(64,122,226)" fill-opacity="0.35"/>
<circle cx="1422.8" cy="596.6" r="4.6" fill="rgb(64,122,226)" fill-opacity="0.35"/>
<circle cx="1372.4" cy="616.1" r="4.6" fill="rgb(64,122,226)" fill-opacity="0.35"/>
<circle cx="1269.7" cy="632.1" r="4.6" fill="rgb(64,122,226)" fill-opacity="0.35"/>
<circle cx="1408.5" cy="635.6" r="4.6" fill="rgb(64,122,226)" fill-opacity="0.35"/>
<circle cx="1275.4" cy="657.8" r="4.6" fill="rgb(64,122,226)" fill-opacity="0.35"/>
<circle cx="1318.3" cy="657.5" r="4.6" fill="rgb(64,122,226)" fill-opacity="0.35"/>
<circle cx="1439.4" cy="656.8" r="4.6" fill="rgb(64,122,226)" fill-opacity="0.35"/>
<circle cx="1285.6" cy="670.5" r="4.6" fill="rgb(64,122,226)" fill-opacity="0.35"/>
<circle cx="1312.5" cy="671.0" r="4.6" fill="rgb(64,122,226)" fill-opacity="0.35"/>
<circle cx="1422.5" cy="672.5" r="4.6" fill="rgb(64,122,226)" fill-opacity="0.35"/>
<circle cx="1422.0" cy="712.1" r="4.6" fill="rgb(64,122,226)" fill-opacity="0.35"/>
<circle cx="1421.2" cy="718.0" r="4.6" fill="rgb(64,122,226)" fill-opacity="0.35"/>
<circle cx="1459.8" cy="725.5" r="4.6" fill="rgb(64,122,226)" fill-opacity="0.35"/>
<circle cx="1317.6" cy="734.7" r="4.6" fill="rgb(64,122,226)" fill-opacity="0.35"/>
<circle cx="1354.4" cy="734.7" r="4.6" fill="rgb(64,122,226)" fill-opacity="0.35"/>
<circle cx="1345.2" cy="775.4" r="4.6" fill="rgb(64,122,226)" fill-opacity="0.35"/>
<circle cx="1315.8" cy="868.6" r="4.6" fill="rgb(64,122,226)" fill-opacity="0.35"/>
<circle cx="1256.7" cy="883.6" r="4.6" fill="rgb(64,122,226)" fill-opacity="0.35"/>
<circle cx="1260.0" cy="907.4" r="4.6" fill="rgb(64,122,226)" fill-opacity="0.35"/>
<circle cx="1340.2" cy="912.4" r="4.6" fill="rgb(64,122,226)" fill-opacity="0.35"/>
<circle cx="484.5" cy="938.9" r="4.6" fill="rgb(64,122,226)" fill-opacity="0.35"/>
<circle cx="586.7" cy="951.7" r="4.6" fill="rgb(64,122,226)" fill-opacity="0.35"/>
<circle cx="591.2" cy="959.5" r="4.6" fill="rgb(64,122,226)" fill-opacity="0.35"/>
<circle cx="600.2" cy="958.0" r="4.6" fill="rgb(64,122,226)" fill-opacity="0.35"/>
<circle cx="611.0" cy="953.4" r="4.6" fill="rgb(64,122,226)" fill-opacity="0.35"/>
<circle cx="602.2" cy="993.8" r="4.6" fill="rgb(64,122,226)" fill-opacity="0.35"/>
<circle cx="502.0" cy="1008.1" r="4.6" fill="rgb(64,122,226)" fill-opacity="0.35"/>
<circle cx="490.5" cy="1025.1" r="4.6" fill="rgb(64,122,226)" fill-opacity="0.35"/>
<circle cx="353.2" cy="1041.6" r="4.6" fill="rgb(64,122,226)" fill-opacity="0.35"/>
<circle cx="214.7" cy="1060.2" r="4.6" fill="rgb(64,122,226)" fill-opacity="0.35"/>
<circle cx="531.6" cy="1067.9" r="4.6" fill="rgb(64,122,226)" fill-opacity="0.35"/>
<circle cx="527.3" cy="1078.5" r="4.6" fill="rgb(64,122,226)" fill-opacity="0.35"/>
<circle cx="467.9" cy="1085.0" r="4.6" fill="rgb(64,122,226)" fill-opacity="0.35"/>
<circle cx="607.7" cy="1083.5" r="4.6" fill="rgb(64,122,226)" fill-opacity="0.35"/>
<circle cx="609.0" cy="1087.2" r="4.6" fill="rgb(64,122,226)" fill-opacity="0.35"/>
<circle cx="582.4" cy="1113.3" r="4.6" fill="rgb(64,122,226)" fill-opacity="0.35"/>
<circle cx="206.9" cy="1116.8" r="4.6" fill="rgb(64,122,226)" fill-opacity="0.35"/>
<circle cx="535.8" cy="1132.8" r="4.6" fill="rgb(64,122,226)" fill-opacity="0.35"/>
<circle cx="551.6" cy="1178.7" r="4.6" fill="rgb(64,122,226)" fill-opacity="0.35"/>
<circle cx="517.5" cy="1223.8" r="4.6" fill="rgb(64,122,226)" fill-opacity="0.35"/>
<circle cx="642.3" cy="1228.8" r="4.6" fill="rgb(64,122,226)" fill-opacity="0.35"/>
<circle cx="842.0" cy="351.2" r="4.6" fill="rgb(1,179,95)" fill-opacity="0.35"/>
<circle cx="674.9" cy="483.5" r="4.6" fill="rgb(1,179,95)" fill-opacity="0.35"/>
<circle cx="1204.0" cy="435.1" r="4.6" fill="rgb(1,179,95)" fill-opacity="0.35"/>
<circle cx="1275.9" cy="488.3" r="4.6" fill="rgb(1,179,95)" fill-opacity="0.35"/>
<circle cx="1642.2" cy="257.8" r="4.6" fill="rgb(1,179,95)" fill-opacity="0.35"/>
<circle cx="506.3" cy="648.3" r="4.6" fill="rgb(1,179,95)" fill-opacity="0.35"/>
<circle cx="430.4" cy="735.3" r="4.6" fill="rgb(1,179,95)" fill-opacity="0.35"/>
<circle cx="513.3" cy="790.1" r="4.6" fill="rgb(1,179,95)" fill-opacity="0.35"/>
<circle cx="812.1" cy="590.7" r="4.6" fill="rgb(1,179,95)" fill-opacity="0.35"/>
<circle cx="885.4" cy="614.1" r="4.6" fill="rgb(1,179,95)" fill-opacity="0.35"/>
<circle cx="877.5" cy="695.4" r="4.6" fill="rgb(1,179,95)" fill-opacity="0.35"/>
<circle cx="928.7" cy="702.6" r="4.6" fill="rgb(1,179,95)" fill-opacity="0.35"/>
<circle cx="898.9" cy="717.5" r="4.6" fill="rgb(1,179,95)" fill-opacity="0.35"/>
<circle cx="805.9" cy="721.8" r="4.6" fill="rgb(1,179,95)" fill-opacity="0.35"/>
<circle cx="795.9" cy="724.3" r="4.6" fill="rgb(1,179,95)" fill-opacity="0.35"/>
<circle cx="863.2" cy="740.8" r="4.6" fill="rgb(1,179,95)" fill-opacity="0.35"/>
<circle cx="837.5" cy="763.4" r="4.6" fill="rgb(1,179,95)" fill-opacity="0.35"/>
<circle cx="910.3" cy="765.7" r="4.6" fill="rgb(1,179,95)" fill-opacity="0.35"/>
<circle cx="845.5" cy="775.8" r="4.6" fill="rgb(1,179,95)" fill-opacity="0.35"/>
<circle cx="827.3" cy="779.3" r="4.6" fill="rgb(1,179,95)" fill-opacity="0.35"/>
<circle cx="863.4" cy="782.6" r="4.6" fill="rgb(1,179,95)" fill-opacity="0.35"/>
<circle cx="927.5" cy="780.9" r="4.6" fill="rgb(1,179,95)" fill-opacity="0.35"/>
<circle cx="720.6" cy="778.8" r="4.6" fill="rgb(1,179,95)" fill-opacity="0.35"/>
<circle cx="767.5" cy="788.1" r="4.6" fill="rgb(1,179,95)" fill-opacity="0.35"/>
<circle cx="882.1" cy="794.1" r="4.6" fill="rgb(1,179,95)" fill-opacity="0.35"/>
<circle cx="904.8" cy="801.3" r="4.6" fill="rgb(1,179,95)" fill-opacity="0.35"/>
<circle cx="910.1" cy="804.5" r="4.6" fill="rgb(1,179,95)" fill-opacity="0.35"/>
<circle cx="694.8" cy="809.0" r="4.6" fill="rgb(1,179,95)" fill-opacity="0.35"/>
<circle cx="801.6" cy="809.7" r="4.6" fill="rgb(1,179,95)" fill-opacity="0.35"/>
<circle cx="794.2" cy="814.3" r="4.6" fill="rgb(1,179,95)" fill-opacity="0.35"/>
<circle cx="800.4" cy="826.0" r="4.6" fill="rgb(1,179,95)" fill-opacity="0.35"/>
<circle cx="759.8" cy="827.9" r="4.6" fill="rgb(1,179,95)" fill-opacity="0.35"/>
<circle cx="774.3" cy="842.7" r="4.6" fill="rgb(1,179,95)" fill-opacity="0.35"/>
<circle cx="635.5" cy="845.4" r="4.6" fill="rgb(1,179,95)" fill-opacity="0.35"/>
<circle cx="777.8" cy="854.4" r="4.6" fill="rgb(1,179,95)" fill-opacity="0.35"/>
<circle cx="764.0" cy="867.8" r="4.6" fill="rgb(1,179,95)" fill-opacity="0.35"/>
<circle cx="766.1" cy="872.3" r="4.6" fill="rgb(1,179,95)" fill-opacity="0.35"/>
<circle cx="756.1" cy="879.5" r="4.6" fill="rgb(1,179,95)" fill-opacity="0.35"/>
<circle cx="775.0" cy="880.3" r="4.6" fill="rgb(1,179,95)" fill-opacity="0.35"/>
<circle cx="631.4" cy="885.0" r="4.6" fill="rgb(1,179,95)" fill-opacity="0.35"/>
<circle cx="777.3" cy="894.2" r="4.6" fill="rgb(1,179,95)" fill-opacity="0.35"/>
<circle cx="866.4" cy="885.3" r="4.6" fill="rgb(1,179,95)" fill-opacity="0.35"/>
<circle cx="908.9" cy="887.0" r="4.6" fill="rgb(1,179,95)" fill-opacity="0.35"/>
<circle cx="870.2" cy="895.0" r="4.6" fill="rgb(1,179,95)" fill-opacity="0.35"/>
<circle cx="871.9" cy="900.7" r="4.6" fill="rgb(1,179,95)" fill-opacity="0.35"/>
<circle cx="917.3" cy="900.3" r="4.6" fill="rgb(1,179,95)" fill-opacity="0.35"/>
<circle cx="723.2" cy="906.2" r="4.6" fill="rgb(1,179,95)" fill-opacity="0.35"/>
<circle cx="728.2" cy="907.9" r="4.6" fill="rgb(1,179,95)" fill-opacity="0.35"/>
<circle cx="896.9" cy="907.4" r="4.6" fill="rgb(1,179,95)" fill-opacity="0.35"/>
<circle cx="787.0" cy="910.0" r="4.6" fill="rgb(1,179,95)" fill-opacity="0.35"/>
<circle cx="819.9" cy="909.9" r="4.6" fill="rgb(1,179,95)" fill-opacity="0.35"/>
<circle cx="931.5" cy="908.7" r="4.6" fill="rgb(1,179,95)" fill-opacity="0.35"/>
<circle cx="930.3" cy="916.2" r="4.6" fill="rgb(1,179,95)" fill-opacity="0.35"/>
<circle cx="650.4" cy="925.4" r="4.6" fill="rgb(1,179,95)" fill-opacity="0.35"/>
<circle cx="622.5" cy="928.4" r="4.6" fill="rgb(1,179,95)" fill-opacity="0.35"/>
<circle cx="864.2" cy="934.6" r="4.6" fill="rgb(1,179,95)" fill-opacity="0.35"/>
<circle cx="840.5" cy="947.1" r="4.6" fill="rgb(1,179,95)" fill-opacity="0.35"/>
<circle cx="756.6" cy="952.1" r="4.6" fill="rgb(1,179,95)" fill-opacity="0.35"/>
<circle cx="882.2" cy="960.8" r="4.6" fill="rgb(1,179,95)" fill-opacity="0.35"/>
<circle cx="869.2" cy="877.8" r="4.6" fill="rgb(1,179,95)" fill-opacity="0.35"/>
<circle cx="667.3" cy="996.4" r="4.6" fill="rgb(1,179,95)" fill-opacity="0.35"/>
<circle cx="771.7" cy="996.0" r="4.6" fill="rgb(1,179,95)" fill-opacity="0.35"/>
<circle cx="797.2" cy="997.4" r="4.6" fill="rgb(1,179,95)" fill-opacity="0.35"/>
<circle cx="760.0" cy="1012.2" r="4.6" fill="rgb(1,179,95)" fill-opacity="0.35"/>
<circle cx="724.4" cy="1030.9" r="4.6" fill="rgb(1,179,95)" fill-opacity="0.35"/>
<circle cx="922.8" cy="1008.1" r="4.6" fill="rgb(1,179,95)" fill-opacity="0.35"/>
<circle cx="824.1" cy="1041.8" r="4.6" fill="rgb(1,179,95)" fill-opacity="0.35"/>
<circle cx="818.6" cy="1072.2" r="4.6" fill="rgb(1,179,95)" fill-opacity="0.35"/>
<circle cx="812.2" cy="1136.0" r="4.6" fill="rgb(1,179,95)" fill-opacity="0.35"/>
<circle cx="953.9" cy="559.5" r="4.6" fill="rgb(1,179,95)" fill-opacity="0.35"/>
<circle cx="1119.1" cy="565.7" r="4.6" fill="rgb(1,179,95)" fill-opacity="0.35"/>
<circle cx="1234.6" cy="570.2" r="4.6" fill="rgb(1,179,95)" fill-opacity="0.35"/>
<circle cx="1146.1" cy="593.2" r="4.6" fill="rgb(1,179,95)" fill-opacity="0.35"/>
<circle cx="1195.0" cy="596.1" r="4.6" fill="rgb(1,179,95)" fill-opacity="0.35"/>
<circle cx="1162.3" cy="610.4" r="4.6" fill="rgb(1,179,95)" fill-opacity="0.35"/>
<circle cx="1130.2" cy="615.4" r="4.6" fill="rgb(1,179,95)" fill-opacity="0.35"/>
<circle cx="1232.6" cy="622.4" r="4.6" fill="rgb(1,179,95)" fill-opacity="0.35"/>
<circle cx="1011.2" cy="629.6" r="4.6" fill="rgb(1,179,95)" fill-opacity="0.35"/>
<circle cx="1029.4" cy="643.3" r="4.6" fill="rgb(1,179,95)" fill-opacity="0.35"/>
<circle cx="1143.1" cy="654.5" r="4.6" fill="rgb(1,179,95)" fill-opacity="0.35"/>
<circle cx="1229.6" cy="651.5" r="4.6" fill="rgb(1,179,95)" fill-opacity="0.35"/>
<circle cx="1066.4" cy="680.2" r="4.6" fill="rgb(1,179,95)" fill-opacity="0.35"/>
<circle cx="1045.2" cy="688.4" r="4.6" fill="rgb(1,179,95)" fill-opacity="0.35"/>
<circle cx="1094.2" cy="699.4" r="4.6" fill="rgb(1,179,95)" fill-opacity="0.35"/>
<circle cx="1112.5" cy="703.1" r="4.6" fill="rgb(1,179,95)" fill-opacity="0.35"/>
<circle cx="1047.4" cy="708.8" r="4.6" fill="rgb(1,179,95)" fill-opacity="0.35"/>
<circle cx="1191.4" cy="708.3" r="4.6" fill="rgb(1,179,95)" fill-opacity="0.35"/>
<circle cx="1200.9" cy="709.6" r="4.6" fill="rgb(1,179,95)" fill-opacity="0.35"/>
<circle cx="963.2" cy="727.8" r="4.6" fill="rgb(1,179,95)" fill-opacity="0.35"/>
<circle cx="1055.6" cy="730.5" r="4.6" fill="rgb(1,179,95)" fill-opacity="0.35"/>
<circle cx="1006.8" cy="733.8" r="4.6" fill="rgb(1,179,95)" fill-opacity="0.35"/>
<circle cx="1126.2" cy="744.7" r="4.6" fill="rgb(1,179,95)" fill-opacity="0.35"/>
<circle cx="1158.8" cy="748.7" r="4.6" fill="rgb(1,179,95)" fill-opacity="0.35"/>
<circle cx="1104.5" cy="756.2" r="4.6" fill="rgb(1,179,95)" fill-opacity="0.35"/>
<circle cx="1169.7" cy="767.6" r="4.6" fill="rgb(1,179,95)" fill-opacity="0.35"/>
<circle cx="1217.8" cy="768.9" r="4.6" fill="rgb(1,179,95)" fill-opacity="0.35"/>
<circle cx="976.4" cy="783.9" r="4.6" fill="rgb(1,179,95)" fill-opacity="0.35"/>
<circle cx="1004.8" cy="790.6" r="4.6" fill="rgb(1,179,95)" fill-opacity="0.35"/>
<circle cx="1013.8" cy="796.0" r="4.6" fill="rgb(1,179,95)" fill-opacity="0.35"/>
<circle cx="956.7" cy="796.3" r="4.6" fill="rgb(1,179,95)" fill-opacity="0.35"/>
<circle cx="1197.2" cy="802.3" r="4.6" fill="rgb(1,179,95)" fill-opacity="0.35"/>
<circle cx="1196.5" cy="811.0" r="4.6" fill="rgb(1,179,95)" fill-opacity="0.35"/>
<circle cx="1185.4" cy="816.3" r="4.6" fill="rgb(1,179,95)" fill-opacity="0.35"/>
<circle cx="983.1" cy="823.5" r="4.6" fill="rgb(1,179,95)" fill-opacity="0.35"/>
<circle cx="1047.4" cy="829.0" r="4.6" fill="rgb(1,179,95)" fill-opacity="0.35"/>
<circle cx="1146.6" cy="828.0" r="4.6" fill="rgb(1,179,95)" fill-opacity="0.35"/>
<circle cx="975.9" cy="836.9" r="4.6" fill="rgb(1,179,95)" fill-opacity="0.35"/>
<circle cx="1021.5" cy="850.2" r="4.6" fill="rgb(1,179,95)" fill-opacity="0.35"/>
<circle cx="1101.2" cy="846.9" r="4.6" fill="rgb(1,179,95)" fill-opacity="0.35"/>
<circle cx="1103.7" cy="851.4" r="4.6" fill="rgb(1,179,95)" fill-opacity="0.35"/>
<circle cx="1220.3" cy="848.9" r="4.6" fill="rgb(1,179,95)" fill-opacity="0.35"/>
<circle cx="1075.0" cy="866.1" r="4.6" fill="rgb(1,179,95)" fill-opacity="0.35"/>
<circle cx="942.5" cy="874.0" r="4.6" fill="rgb(1,179,95)" fill-opacity="0.35"/>
<circle cx="982.9" cy="882.5" r="4.6" fill="rgb(1,179,95)" fill-opacity="0.35"/>
<circle cx="1014.5" cy="889.7" r="4.6" fill="rgb(1,179,95)" fill-opacity="0.35"/>
<circle cx="1074.0" cy="892.3" r="4.6" fill="rgb(1,179,95)" fill-opacity="0.35"/>
<circle cx="1173.5" cy="904.7" r="4.6" fill="rgb(1,179,95)" fill-opacity="0.35"/>
<circle cx="962.9" cy="912.5" r="4.6" fill="rgb(1,179,95)" fill-opacity="0.35"/>
<circle cx="1074.0" cy="921.1" r="4.6" fill="rgb(1,179,95)" fill-opacity="0.35"/>
<circle cx="1113.4" cy="944.6" r="4.6" fill="rgb(1,179,95)" fill-opacity="0.35"/>
<circle cx="964.4" cy="948.4" r="4.6" fill="rgb(1,179,95)" fill-opacity="0.35"/>
<circle cx="990.6" cy="962.5" r="4.6" fill="rgb(1,179,95)" fill-opacity="0.35"/>
<circle cx="1249.0" cy="768.4" r="4.6" fill="rgb(1,179,95)" fill-opacity="0.35"/>
<circle cx="974.2" cy="989.7" r="4.6" fill="rgb(1,179,95)" fill-opacity="0.35"/>
<circle cx="1328.2" cy="549.6" r="4.6" fill="rgb(1,179,95)" fill-opacity="0.35"/>
<circle cx="1383.3" cy="569.7" r="4.6" fill="rgb(1,179,95)" fill-opacity="0.35"/>
<circle cx="1346.9" cy="639.3" r="4.6" fill="rgb(1,179,95)" fill-opacity="0.35"/>
<circle cx="1436.5" cy="721.5" r="4.6" fill="rgb(1,179,95)" fill-opacity="0.35"/>
<circle cx="1328.5" cy="733.8" r="4.6" fill="rgb(1,179,95)" fill-opacity="0.35"/>
<circle cx="1434.4" cy="797.1" r="4.6" fill="rgb(1,179,95)" fill-opacity="0.35"/>
<circle cx="1264.2" cy="801.8" r="4.6" fill="rgb(1,179,95)" fill-opacity="0.35"/>
<circle cx="1305.1" cy="832.7" r="4.6" fill="rgb(1,179,95)" fill-opacity="0.35"/>
<circle cx="609.0" cy="889.3" r="4.6" fill="rgb(1,179,95)" fill-opacity="0.35"/>
<circle cx="488.0" cy="957.0" r="4.6" fill="rgb(1,179,95)" fill-opacity="0.35"/>
<circle cx="506.8" cy="971.5" r="4.6" fill="rgb(1,179,95)" fill-opacity="0.35"/>
<circle cx="580.9" cy="970.5" r="4.6" fill="rgb(1,179,95)" fill-opacity="0.35"/>
<circle cx="579.9" cy="981.5" r="4.6" fill="rgb(1,179,95)" fill-opacity="0.35"/>
<circle cx="538.8" cy="1008.1" r="4.6" fill="rgb(1,179,95)" fill-opacity="0.35"/>
<circle cx="603.5" cy="1133.6" r="4.6" fill="rgb(1,179,95)" fill-opacity="0.35"/>
<circle cx="443.6" cy="1142.3" r="4.6" fill="rgb(1,179,95)" fill-opacity="0.35"/>
<circle cx="1012.8" cy="477.2" r="9.2" fill="#e0bc3b"/>
<circle cx="1278.9" cy="275.3" r="9.2" fill="#e0bc3b"/>
<circle cx="1255.8" cy="445.9" r="9.2" fill="#e0bc3b"/>
<circle cx="1140.3" cy="478.7" r="9.2" fill="#e0bc3b"/>
<circle cx="935.5" cy="571.0" r="9.2" fill="#e0bc3b"/>
<circle cx="911.6" cy="589.5" r="9.2" fill="#e0bc3b"/>
<circle cx="903.9" cy="688.4" r="9.2" fill="#e0bc3b"/>
<circle cx="860.7" cy="727.7" r="9.2" fill="#e0bc3b"/>
<circle cx="855.5" cy="765.9" r="9.2" fill="#e0bc3b"/>
<circle cx="841.0" cy="793.0" r="9.2" fill="#e0bc3b"/>
<circle cx="811.1" cy="819.3" r="9.2" fill="#e0bc3b"/>
<circle cx="829.3" cy="819.0" r="9.2" fill="#e0bc3b"/>
<circle cx="854.7" cy="890.8" r="9.2" fill="#e0bc3b"/>
<circle cx="812.1" cy="955.1" r="9.2" fill="#e0bc3b"/>
<circle cx="876.4" cy="866.9" r="9.2" fill="#e0bc3b"/>
<circle cx="893.9" cy="1001.7" r="9.2" fill="#e0bc3b"/>
<circle cx="686.3" cy="1065.8" r="9.2" fill="#e0bc3b"/>
<circle cx="707.9" cy="1062.2" r="9.2" fill="#e0bc3b"/>
<circle cx="628.7" cy="1149.0" r="9.2" fill="#e0bc3b"/>
<circle cx="989.6" cy="508.4" r="9.2" fill="#e0bc3b"/>
<circle cx="1082.3" cy="614.1" r="9.2" fill="#e0bc3b"/>
<circle cx="1117.0" cy="638.1" r="9.2" fill="#e0bc3b"/>
<circle cx="1156.6" cy="674.9" r="9.2" fill="#e0bc3b"/>
<circle cx="1115.7" cy="687.1" r="9.2" fill="#e0bc3b"/>
<circle cx="1220.1" cy="683.7" r="9.2" fill="#e0bc3b"/>
<circle cx="1225.6" cy="717.1" r="9.2" fill="#e0bc3b"/>
<circle cx="967.6" cy="799.8" r="9.2" fill="#e0bc3b"/>
<circle cx="1118.7" cy="816.5" r="9.2" fill="#e0bc3b"/>
<circle cx="1167.3" cy="806.8" r="9.2" fill="#e0bc3b"/>
<circle cx="1034.9" cy="858.6" r="9.2" fill="#e0bc3b"/>
<circle cx="1005.3" cy="879.0" r="9.2" fill="#e0bc3b"/>
<circle cx="1023.0" cy="959.6" r="9.2" fill="#e0bc3b"/>
<circle cx="976.8" cy="971.8" r="9.2" fill="#e0bc3b"/>
<circle cx="1258.5" cy="618.6" r="9.2" fill="#e0bc3b"/>
<circle cx="1349.0" cy="617.8" r="9.2" fill="#e0bc3b"/>
<circle cx="1436.0" cy="609.2" r="9.2" fill="#e0bc3b"/>
<circle cx="1267.9" cy="699.6" r="9.2" fill="#e0bc3b"/>
<circle cx="1285.9" cy="726.3" r="9.2" fill="#e0bc3b"/>
</g>
<g stroke="rgb(125,145,155)" stroke-opacity="0.3" stroke-width="2" stroke-dasharray="6.7 3.32" fill="none">
<line x1="930.9" y1="1300.0" x2="930.9" y2="122.0"/>
<line x1="135.0" y1="881" x2="1716.0" y2="881"/>
</g>
<rect x="135.0" y="122.0" width="1581.0" height="1178.0" fill="none" stroke="#1e2c3c" stroke-width="2"/>
<g stroke="#e6edf3" stroke-width="2">
<line x1="299.0" y1="1301.0" x2="299.0" y2="1308.2"/>
<line x1="126.8" y1="1249.0" x2="134.0" y2="1249.0"/>
<line x1="525.3" y1="1301.0" x2="525.3" y2="1308.2"/>
<line x1="126.8" y1="1080.8" x2="134.0" y2="1080.8"/>
<line x1="751.7" y1="1301.0" x2="751.7" y2="1308.2"/>
<line x1="126.8" y1="912.6" x2="134.0" y2="912.6"/>
<line x1="978.0" y1="1301.0" x2="978.0" y2="1308.2"/>
<line x1="126.8" y1="744.4" x2="134.0" y2="744.4"/>
<line x1="1204.3" y1="1301.0" x2="1204.3" y2="1308.2"/>
<line x1="126.8" y1="576.2" x2="134.0" y2="576.2"/>
<line x1="1430.7" y1="1301.0" x2="1430.7" y2="1308.2"/>
<line x1="126.8" y1="408.0" x2="134.0" y2="408.0"/>
<line x1="1657.0" y1="1301.0" x2="1657.0" y2="1308.2"/>
<line x1="126.8" y1="239.8" x2="134.0" y2="239.8"/>
</g>
<g fill="#e6edf3" font-size="30.3">
<text x="299.3" y="1339.6" text-anchor="middle" textLength="60.5" lengthAdjust="spacingAndGlyphs">0.05</text>
<text x="117.3" y="1260.2" text-anchor="end" textLength="60.5" lengthAdjust="spacingAndGlyphs">0.05</text>
<text x="525.6" y="1339.6" text-anchor="middle" textLength="60.5" lengthAdjust="spacingAndGlyphs">0.10</text>
<text x="117.3" y="1092.0" text-anchor="end" textLength="60.5" lengthAdjust="spacingAndGlyphs">0.10</text>
<text x="752.0" y="1339.6" text-anchor="middle" textLength="60.5" lengthAdjust="spacingAndGlyphs">0.15</text>
<text x="117.3" y="923.8" text-anchor="end" textLength="60.5" lengthAdjust="spacingAndGlyphs">0.15</text>
<text x="978.3" y="1339.6" text-anchor="middle" textLength="60.5" lengthAdjust="spacingAndGlyphs">0.20</text>
<text x="117.3" y="755.6" text-anchor="end" textLength="60.5" lengthAdjust="spacingAndGlyphs">0.20</text>
<text x="1204.6" y="1339.6" text-anchor="middle" textLength="60.5" lengthAdjust="spacingAndGlyphs">0.25</text>
<text x="117.3" y="587.4" text-anchor="end" textLength="60.5" lengthAdjust="spacingAndGlyphs">0.25</text>
<text x="1431.0" y="1339.6" text-anchor="middle" textLength="60.5" lengthAdjust="spacingAndGlyphs">0.30</text>
<text x="117.3" y="419.2" text-anchor="end" textLength="60.5" lengthAdjust="spacingAndGlyphs">0.30</text>
<text x="1657.3" y="1339.6" text-anchor="middle" textLength="60.5" lengthAdjust="spacingAndGlyphs">0.35</text>
<text x="117.3" y="251.0" text-anchor="end" textLength="60.5" lengthAdjust="spacingAndGlyphs">0.35</text>
</g>
<g fill="#e6edf3" font-weight="bold" stroke="#e6edf3" stroke-width="0.6" stroke-linejoin="round">
<text x="925.5" y="45" font-size="36.3" text-anchor="middle" textLength="742" lengthAdjust="spacingAndGlyphs">The Prospect Map: MiLB K% vs ISO</text>
<text x="926.3" y="86.3" font-size="36.3" text-anchor="middle" textLength="799.5" lengthAdjust="spacingAndGlyphs">Every Hitter Who Debuted 2015-2025</text>
<text x="925.7" y="1376.5" font-size="29.9" text-anchor="middle" textLength="442.6" lengthAdjust="spacingAndGlyphs">MiLB Strikeout Rate (K%)</text>
<text transform="translate(37.6,712) rotate(-90)" font-size="29.9" text-anchor="middle" textLength="455" lengthAdjust="spacingAndGlyphs">MiLB Isolated Power (ISO)</text>
</g>
<text x="388.3" y="442.0" font-size="28.8" font-weight="bold" fill="#0d9a5e" textLength="169.9" lengthAdjust="spacingAndGlyphs">ELITE ZONE</text>
<text x="388.3" y="492.0" font-size="20.8" fill="#0e7a4e" textLength="184.0" lengthAdjust="spacingAndGlyphs">Low K% + High ISO</text>
<text x="1384.2" y="442.0" font-size="28.8" font-weight="bold" fill="#a85f12" textLength="228.1" lengthAdjust="spacingAndGlyphs">BOOM OR BUST</text>
<text x="1384.2" y="492.0" font-size="20.8" fill="#8a5116" textLength="190.6" lengthAdjust="spacingAndGlyphs">High K% + High ISO</text>
<text x="1384.2" y="1216.3" font-size="28.8" font-weight="bold" fill="#a83a42" textLength="234.1" lengthAdjust="spacingAndGlyphs">RED FLAG ZONE</text>
<text x="1384.2" y="1266.0" font-size="20.8" fill="#8c343d" textLength="184.1" lengthAdjust="spacingAndGlyphs">High K% + Low ISO</text>
<line x1="605.6" y1="529.0" x2="650.4" y2="566.6" stroke="#dcb83a" stroke-width="2.5" stroke-linecap="round" stroke-opacity="0.78"/>
<rect x="523.6" y="497.3" width="123.0" height="28.9" rx="3.8" ry="3.8" fill="#0f1923" fill-opacity="0.8" stroke="#dcb83a" stroke-width="1.8"/>
<text x="529.2" y="517.0" font-size="21.6" font-weight="bold" fill="none" stroke="#0f1923" stroke-width="4.5" stroke-linejoin="round" textLength="112.8" lengthAdjust="spacingAndGlyphs">Juan Soto</text>
<text x="529.2" y="517.0" font-size="21.6" font-weight="bold" fill="#ffffff" stroke="#ffffff" stroke-width="0.7" stroke-linejoin="round" textLength="112.8" lengthAdjust="spacingAndGlyphs">Juan Soto</text>
<line x1="460.3" y1="711.4" x2="518.8" y2="729.3" stroke="#dcb83a" stroke-width="2.5" stroke-linecap="round" stroke-opacity="0.78"/>
<rect x="319.9" y="680.9" width="175.7" height="28.9" rx="3.8" ry="3.8" fill="#0f1923" fill-opacity="0.8" stroke="#dcb83a" stroke-width="1.8"/>
<text x="324.6" y="701.7" font-size="21.6" font-weight="bold" fill="none" stroke="#0f1923" stroke-width="4.5" stroke-linejoin="round" textLength="165.8" lengthAdjust="spacingAndGlyphs">Alex Bregman</text>
<text x="324.6" y="701.7" font-size="21.6" font-weight="bold" fill="#ffffff" stroke="#ffffff" stroke-width="0.7" stroke-linejoin="round" textLength="165.8" lengthAdjust="spacingAndGlyphs">Alex Bregman</text>
<line x1="476.6" y1="790.3" x2="564.1" y2="751.8" stroke="#dcb83a" stroke-width="2.5" stroke-linecap="round" stroke-opacity="0.78"/>
<rect x="313.9" y="791.9" width="254.1" height="28.7" rx="3.8" ry="3.8" fill="#0f1923" fill-opacity="0.8" stroke="#dcb83a" stroke-width="1.8"/>
<text x="318.8" y="812.6" font-size="21.6" font-weight="bold" fill="none" stroke="#0f1923" stroke-width="4.5" stroke-linejoin="round" textLength="244.2" lengthAdjust="spacingAndGlyphs">Vladimir Guerrero Jr.</text>
<text x="318.8" y="812.6" font-size="21.6" font-weight="bold" fill="#ffffff" stroke="#ffffff" stroke-width="0.7" stroke-linejoin="round" textLength="244.2" lengthAdjust="spacingAndGlyphs">Vladimir Guerrero Jr.</text>
<line x1="1069.9" y1="533.2" x2="1026.4" y2="569.4" stroke="#dcb83a" stroke-width="2.5" stroke-linecap="round" stroke-opacity="0.78"/>
<rect x="996.3" y="500.5" width="188.2" height="29.4" rx="3.8" ry="3.8" fill="#0f1923" fill-opacity="0.8" stroke="#dcb83a" stroke-width="1.8"/>
<text x="1002.7" y="521.3" font-size="21.6" font-weight="bold" fill="none" stroke="#0f1923" stroke-width="4.5" stroke-linejoin="round" textLength="177.3" lengthAdjust="spacingAndGlyphs">Yordan Alvarez</text>
<text x="1002.7" y="521.3" font-size="21.6" font-weight="bold" fill="#ffffff" stroke="#ffffff" stroke-width="0.7" stroke-linejoin="round" textLength="177.3" lengthAdjust="spacingAndGlyphs">Yordan Alvarez</text>
<line x1="1250.3" y1="733.9" x2="1195.6" y2="760.8" stroke="#dcb83a" stroke-width="2.5" stroke-linecap="round" stroke-opacity="0.78"/>
<rect x="1205.9" y="702.7" width="154.0" height="28.8" rx="3.8" ry="3.8" fill="#0f1923" fill-opacity="0.8" stroke="#dcb83a" stroke-width="1.8"/>
<text x="1210.7" y="722.6" font-size="21.6" font-weight="bold" fill="none" stroke="#0f1923" stroke-width="4.5" stroke-linejoin="round" textLength="144.8" lengthAdjust="spacingAndGlyphs">Aaron Judge</text>
<text x="1210.7" y="722.6" font-size="21.6" font-weight="bold" fill="#ffffff" stroke="#ffffff" stroke-width="0.7" stroke-linejoin="round" textLength="144.8" lengthAdjust="spacingAndGlyphs">Aaron Judge</text>
<line x1="1286.6" y1="735.7" x2="1234.1" y2="698.7" stroke="#db4b52" stroke-width="2.5" stroke-linecap="round" stroke-opacity="0.78"/>
<rect x="1222.7" y="738.1" width="174.8" height="29.4" rx="3.8" ry="3.8" fill="#0f1923" fill-opacity="0.8" stroke="#db4b52" stroke-width="1.8"/>
<text x="1228.5" y="758.3" font-size="21.6" font-weight="bold" fill="none" stroke="#0f1923" stroke-width="4.5" stroke-linejoin="round" textLength="164.1" lengthAdjust="spacingAndGlyphs">Lewis Brinson</text>
<text x="1228.5" y="758.3" font-size="21.6" font-weight="bold" fill="#ffffff" stroke="#ffffff" stroke-width="0.7" stroke-linejoin="round" textLength="164.1" lengthAdjust="spacingAndGlyphs">Lewis Brinson</text>
<line x1="1297.9" y1="832.9" x2="1251.5" y2="806.7" stroke="#db4b52" stroke-width="2.5" stroke-linecap="round" stroke-opacity="0.78"/>
<rect x="1227.6" y="835.2" width="199.2" height="28.2" rx="3.8" ry="3.8" fill="#0f1923" fill-opacity="0.8" stroke="#db4b52" stroke-width="1.8"/>
<text x="1232.8" y="855.2" font-size="21.6" font-weight="bold" fill="none" stroke="#0f1923" stroke-width="4.5" stroke-linejoin="round" textLength="189.8" lengthAdjust="spacingAndGlyphs">Bradley Zimmer</text>
<text x="1232.8" y="855.2" font-size="21.6" font-weight="bold" fill="#ffffff" stroke="#ffffff" stroke-width="0.7" stroke-linejoin="round" textLength="189.8" lengthAdjust="spacingAndGlyphs">Bradley Zimmer</text>
<line x1="906.3" y1="844.7" x2="976.7" y2="806.2" stroke="#db4b52" stroke-width="2.5" stroke-linecap="round" stroke-opacity="0.78"/>
<rect x="778.7" y="846.5" width="195.6" height="28.9" rx="3.8" ry="3.8" fill="#0f1923" fill-opacity="0.8" stroke="#db4b52" stroke-width="1.8"/>
<text x="783.6" y="866.1" font-size="21.6" font-weight="bold" fill="none" stroke="#0f1923" stroke-width="4.5" stroke-linejoin="round" textLength="185.6" lengthAdjust="spacingAndGlyphs">Carter Kieboom</text>
<text x="783.6" y="866.1" font-size="21.6" font-weight="bold" fill="#ffffff" stroke="#ffffff" stroke-width="0.7" stroke-linejoin="round" textLength="185.6" lengthAdjust="spacingAndGlyphs">Carter Kieboom</text>
<polygon points="656.50,551.85 660.96,565.57 675.38,565.57 663.71,574.04 668.17,587.76 656.50,579.28 644.83,587.76 649.29,574.04 637.62,565.57 652.04,565.57" fill="#ffd43b" stroke="#ffffff" stroke-width="3.3" stroke-linejoin="round"/>
<polygon points="526.50,714.90 530.25,726.44 542.38,726.44 532.57,733.57 536.32,745.11 526.50,737.98 516.68,745.11 520.43,733.57 510.62,726.44 522.75,726.44" fill="#ffd43b" stroke="#ffffff" stroke-width="3.3" stroke-linejoin="round"/>
<polygon points="571.40,731.05 575.34,743.18 588.09,743.18 577.78,750.67 581.72,762.80 571.40,755.30 561.08,762.80 565.02,750.67 554.71,743.18 567.46,743.18" fill="#ffd43b" stroke="#ffffff" stroke-width="3.3" stroke-linejoin="round"/>
<polygon points="1020.30,554.65 1024.76,568.37 1039.18,568.37 1027.51,576.84 1031.97,590.56 1020.30,582.08 1008.63,590.56 1013.09,576.84 1001.42,568.37 1015.84,568.37" fill="#ffd43b" stroke="#ffffff" stroke-width="3.3" stroke-linejoin="round"/>
<polygon points="1188.40,746.75 1192.34,758.88 1205.09,758.88 1194.78,766.37 1198.72,778.50 1188.40,771.00 1178.08,778.50 1182.02,766.37 1171.71,758.88 1184.46,758.88" fill="#ffd43b" stroke="#ffffff" stroke-width="3.3" stroke-linejoin="round"/>
<polygon points="1220.70,680.30 1227.60,687.20 1234.50,680.30 1241.40,687.20 1234.50,694.10 1241.40,701.00 1234.50,707.90 1227.60,701.00 1220.70,707.90 1213.80,701.00 1220.70,694.10 1213.80,687.20" fill="#ff5252" stroke="#ffffff" stroke-width="3.2" stroke-linejoin="miter"/>
<polygon points="1237.60,789.00 1244.50,795.90 1251.40,789.00 1258.30,795.90 1251.40,802.80 1258.30,809.70 1251.40,816.60 1244.50,809.70 1237.60,816.60 1230.70,809.70 1237.60,802.80 1230.70,795.90" fill="#ff5252" stroke="#ffffff" stroke-width="3.2" stroke-linejoin="miter"/>
<polygon points="976.80,788.60 983.70,795.50 990.60,788.60 997.50,795.50 990.60,802.40 997.50,809.30 990.60,816.20 983.70,809.30 976.80,816.20 969.90,809.30 976.80,802.40 969.90,795.50" fill="#ff5252" stroke="#ffffff" stroke-width="3.2" stroke-linejoin="miter"/>
<rect x="1432" y="133.2" width="274" height="159" rx="4.2" ry="4.2" fill="#0f1923" fill-opacity="0.15" stroke="#36414b" stroke-width="2"/>
<circle cx="1461.4" cy="151.2" r="4.6" fill="#4c272e"/>
<text x="1499.3" y="157.2" font-size="21.4" fill="#e6edf3" textLength="47.8" lengthAdjust="spacingAndGlyphs">Bust</text>
<circle cx="1461.4" cy="181.9" r="4.6" fill="#212f39"/>
<text x="1499.3" y="187.9" font-size="21.4" fill="#e6edf3" textLength="65.3" lengthAdjust="spacingAndGlyphs">Fringe</text>
<circle cx="1461.4" cy="212.6" r="4.6" fill="#203b66"/>
<text x="1499.3" y="218.6" font-size="21.4" fill="#e6edf3" textLength="199.2" lengthAdjust="spacingAndGlyphs">Below Avg Regular</text>
<circle cx="1461.4" cy="243.3" r="4.6" fill="#0a4f38"/>
<text x="1499.3" y="249.3" font-size="21.4" fill="#e6edf3" textLength="140.3" lengthAdjust="spacingAndGlyphs">Solid Regular</text>
<circle cx="1461.4" cy="274.0" r="9.2" fill="#e0bc3b"/>
<text x="1499.3" y="280.0" font-size="21.4" fill="#e6edf3" textLength="43.5" lengthAdjust="spacingAndGlyphs">Star</text>
<g>
<ellipse cx="1830.84" cy="1379.54" rx="2.3" ry="1.3" transform="rotate(-80.0 1830.84 1379.54)" fill="#e8474d"/>
<ellipse cx="1827.89" cy="1381.38" rx="2.3" ry="1.3" transform="rotate(-164.0 1827.89 1381.38)" fill="#e8474d"/>
<ellipse cx="1833.67" cy="1384.23" rx="2.3" ry="1.3" transform="rotate(-73.3 1833.67 1384.23)" fill="#e8474d"/>
<ellipse cx="1830.53" cy="1385.72" rx="2.3" ry="1.3" transform="rotate(-157.3 1830.53 1385.72)" fill="#e8474d"/>
<ellipse cx="1835.82" cy="1388.97" rx="2.3" ry="1.3" transform="rotate(-65.7 1835.82 1388.97)" fill="#e8474d"/>
<ellipse cx="1832.51" cy="1390.03" rx="2.3" ry="1.3" transform="rotate(-149.7 1832.51 1390.03)" fill="#e8474d"/>
<ellipse cx="1837.55" cy="1395.09" rx="2.3" ry="1.3" transform="rotate(-55.1 1837.55 1395.09)" fill="#e8474d"/>
<ellipse cx="1834.10" cy="1395.52" rx="2.3" ry="1.3" transform="rotate(-139.1 1834.10 1395.52)" fill="#e8474d"/>
<ellipse cx="1838.04" cy="1399.07" rx="2.3" ry="1.3" transform="rotate(-48.0 1838.04 1399.07)" fill="#e8474d"/>
<ellipse cx="1834.56" cy="1399.07" rx="2.3" ry="1.3" transform="rotate(-132.0 1834.56 1399.07)" fill="#e8474d"/>
<ellipse cx="1838.03" cy="1403.08" rx="2.3" ry="1.3" transform="rotate(-40.9 1838.03 1403.08)" fill="#e8474d"/>
<ellipse cx="1834.58" cy="1402.65" rx="2.3" ry="1.3" transform="rotate(-124.9 1834.58 1402.65)" fill="#e8474d"/>
<ellipse cx="1837.00" cy="1409.35" rx="2.3" ry="1.3" transform="rotate(-30.3 1837.00 1409.35)" fill="#e8474d"/>
<ellipse cx="1833.69" cy="1408.29" rx="2.3" ry="1.3" transform="rotate(-114.3 1833.69 1408.29)" fill="#e8474d"/>
<ellipse cx="1835.32" cy="1414.28" rx="2.3" ry="1.3" transform="rotate(-22.7 1835.32 1414.28)" fill="#e8474d"/>
<ellipse cx="1832.18" cy="1412.79" rx="2.3" ry="1.3" transform="rotate(-106.7 1832.18 1412.79)" fill="#e8474d"/>
<ellipse cx="1832.89" cy="1419.18" rx="2.3" ry="1.3" transform="rotate(-16.0 1832.89 1419.18)" fill="#e8474d"/>
<ellipse cx="1829.94" cy="1417.34" rx="2.3" ry="1.3" transform="rotate(-100.0 1829.94 1417.34)" fill="#e8474d"/>
<ellipse cx="1866.56" cy="1379.54" rx="2.3" ry="1.3" transform="rotate(260.0 1866.56 1379.54)" fill="#e8474d"/>
<ellipse cx="1869.51" cy="1381.38" rx="2.3" ry="1.3" transform="rotate(344.0 1869.51 1381.38)" fill="#e8474d"/>
<ellipse cx="1863.73" cy="1384.23" rx="2.3" ry="1.3" transform="rotate(253.3 1863.73 1384.23)" fill="#e8474d"/>
<ellipse cx="1866.87" cy="1385.72" rx="2.3" ry="1.3" transform="rotate(337.3 1866.87 1385.72)" fill="#e8474d"/>
<ellipse cx="1861.58" cy="1388.97" rx="2.3" ry="1.3" transform="rotate(245.7 1861.58 1388.97)" fill="#e8474d"/>
<ellipse cx="1864.89" cy="1390.03" rx="2.3" ry="1.3" transform="rotate(329.7 1864.89 1390.03)" fill="#e8474d"/>
<ellipse cx="1859.85" cy="1395.09" rx="2.3" ry="1.3" transform="rotate(235.1 1859.85 1395.09)" fill="#e8474d"/>
<ellipse cx="1863.30" cy="1395.52" rx="2.3" ry="1.3" transform="rotate(319.1 1863.30 1395.52)" fill="#e8474d"/>
<ellipse cx="1859.36" cy="1399.07" rx="2.3" ry="1.3" transform="rotate(228.0 1859.36 1399.07)" fill="#e8474d"/>
<ellipse cx="1862.84" cy="1399.07" rx="2.3" ry="1.3" transform="rotate(312.0 1862.84 1399.07)" fill="#e8474d"/>
<ellipse cx="1859.37" cy="1403.08" rx="2.3" ry="1.3" transform="rotate(220.9 1859.37 1403.08)" fill="#e8474d"/>
<ellipse cx="1862.82" cy="1402.65" rx="2.3" ry="1.3" transform="rotate(304.9 1862.82 1402.65)" fill="#e8474d"/>
<ellipse cx="1860.40" cy="1409.35" rx="2.3" ry="1.3" transform="rotate(210.3 1860.40 1409.35)" fill="#e8474d"/>
<ellipse cx="1863.71" cy="1408.29" rx="2.3" ry="1.3" transform="rotate(294.3 1863.71 1408.29)" fill="#e8474d"/>
<ellipse cx="1862.08" cy="1414.28" rx="2.3" ry="1.3" transform="rotate(202.7 1862.08 1414.28)" fill="#e8474d"/>
<ellipse cx="1865.22" cy="1412.79" rx="2.3" ry="1.3" transform="rotate(286.7 1865.22 1412.79)" fill="#e8474d"/>
<ellipse cx="1864.51" cy="1419.18" rx="2.3" ry="1.3" transform="rotate(196.0 1864.51 1419.18)" fill="#e8474d"/>
<ellipse cx="1867.46" cy="1417.34" rx="2.3" ry="1.3" transform="rotate(280.0 1867.46 1417.34)" fill="#e8474d"/>
<circle cx="1848.7" cy="1403.0" r="31.2" fill="none" stroke="#1c343d" stroke-width="3.0"/>
<path d="M1817.4,1392.6 L1843.5,1393.7 Q1844.3,1403.5 1839.2,1411.1 Q1832.6,1413.0 1824.5,1412.0 Q1818.0,1410.6 1817.4,1403.5 Z" fill="none" stroke="#1c343d" stroke-width="2.9" stroke-linejoin="round"/>
<path d="M1880.0,1392.6 L1853.9,1393.7 Q1853.1,1403.5 1858.2,1411.1 Q1864.8,1413.0 1872.9,1412.0 Q1879.4,1410.6 1880.0,1403.5 Z" fill="none" stroke="#1c343d" stroke-width="2.9" stroke-linejoin="round"/>
<rect x="1812.3" y="1390.3" width="72.8" height="3.6" rx="1.2" fill="#1c343d"/>
<rect x="1812.3" y="1391" width="4.5" height="5.2" rx="1" fill="#1c343d"/>
<rect x="1880.6" y="1391" width="4.5" height="5.2" rx="1" fill="#1c343d"/>
<path d="M1843,1392 L1854.4,1392 L1855.5,1400 Q1848.7,1394.5 1841.9,1400 Z" fill="#1c343d"/>
</g>
<text x="1695.8" y="1449" font-size="22.2" font-style="italic" fill="#566c79" textLength="204.4" lengthAdjust="spacingAndGlyphs">Basenerd Analytics</text>
</g></svg></body></html>
